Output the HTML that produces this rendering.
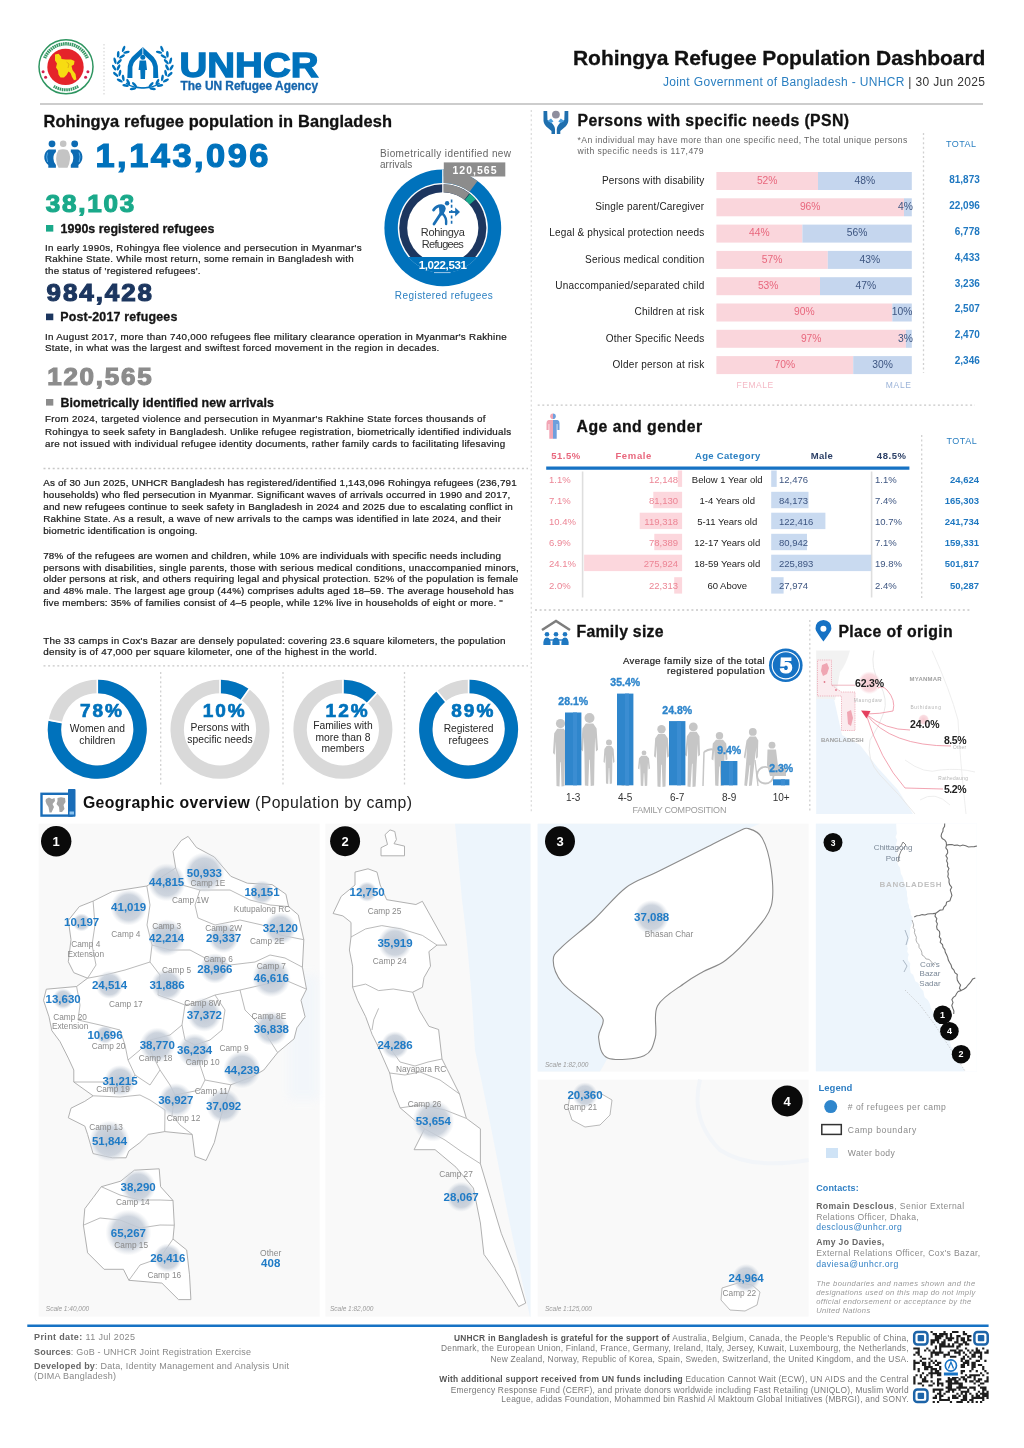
<!DOCTYPE html>
<html lang="en"><head><meta charset="utf-8"><title>Rohingya Refugee Population Dashboard</title>
<style>
html,body{margin:0;padding:0;background:#fff;}
body{width:1024px;height:1448px;overflow:hidden;}
svg{display:block;font-family:'Liberation Sans', Arial, sans-serif;}
</style></head>
<body>
<svg width="1024" height="1448" viewBox="0 0 1024 1448">
<defs>
<radialGradient id="bub" cx="50%" cy="50%" r="50%">
<stop offset="0" stop-color="#b9c3d1" stop-opacity="0.95"/>
<stop offset="0.7" stop-color="#c5cdd8" stop-opacity="0.85"/>
<stop offset="1" stop-color="#d5dbe3" stop-opacity="0"/>
</radialGradient>
<radialGradient id="pinkbub" cx="50%" cy="50%" r="50%">
<stop offset="0" stop-color="#f5c3cb" stop-opacity="0.9"/>
<stop offset="0.75" stop-color="#f7cdd4" stop-opacity="0.7"/>
<stop offset="1" stop-color="#fadde2" stop-opacity="0"/>
</radialGradient>
<filter id="soft" x="-20%" y="-20%" width="140%" height="140%"><feGaussianBlur stdDeviation="4"/></filter>
<clipPath id="donutclip"><circle cx="442.8" cy="227.9" r="45.2"/></clipPath>
</defs>
<rect width="1024" height="1448" fill="#ffffff"/>
<circle cx="66.0" cy="66.8" r="27.0" fill="#ffffff" stroke="#2e9560" stroke-width="1.5"/>
<path d="M44.67,58.18 A23.0,23.0 0 0 1 87.33,58.18" fill="none" stroke="#3a9a68" stroke-width="3.4" stroke-dasharray="1.6 0.6"/>
<path d="M78.19,86.31 A23.0,23.0 0 0 1 53.81,86.31" fill="none" stroke="#3a9a68" stroke-width="3.0" stroke-dasharray="1.6 0.6"/>
<circle cx="65.5" cy="66.9" r="18.2" fill="#e5232a" />
<path d="M55.0,54.5 L58.5,53.8 L61.0,56.5 L61.5,59.0 L66.0,59.5 L71.0,59.5 L74.5,61.0 L74.0,64.5 L71.5,66.0 L72.5,70.0 L75.5,74.0 L76.4,79.5 L74.0,80.2 L72.0,77.0 L70.5,73.0 L68.5,71.5 L66.5,75.0 L64.0,77.5 L60.5,77.5 L58.5,74.5 L58.0,70.5 L56.0,67.5 L57.0,63.5 L55.0,60.5 Z" fill="#f7dc12" />
<path d="M66.5,62 L69,64 L68,68" fill="none" stroke="#d9a514" stroke-width="0.8" />
<circle cx="43.1" cy="71.8" r="1.5" fill="#d2204d" />
<circle cx="45.6" cy="77.2" r="1.5" fill="#d2204d" />
<circle cx="87.9" cy="71.8" r="1.5" fill="#d2204d" />
<circle cx="85.6" cy="77.2" r="1.5" fill="#d2204d" />
<line x1="104.0" y1="44.0" x2="104.0" y2="95.0" stroke="#cfcfcf" stroke-width="1" stroke-dasharray="1.5 2"/>
<ellipse cx="126.5" cy="52.2" rx="1.3" ry="3.3" fill="#0072bc" transform="rotate(436 126.5 52.2)"/>
<ellipse cx="123.6" cy="48.9" rx="1.3" ry="3.3" fill="#0072bc" transform="rotate(380 123.6 48.9)"/>
<ellipse cx="122.0" cy="56.5" rx="1.3" ry="3.3" fill="#0072bc" transform="rotate(419 122.0 56.5)"/>
<ellipse cx="118.2" cy="54.2" rx="1.3" ry="3.3" fill="#0072bc" transform="rotate(363 118.2 54.2)"/>
<ellipse cx="119.3" cy="61.7" rx="1.3" ry="3.3" fill="#0072bc" transform="rotate(402 119.3 61.7)"/>
<ellipse cx="115.0" cy="60.7" rx="1.3" ry="3.3" fill="#0072bc" transform="rotate(346 115.0 60.7)"/>
<ellipse cx="118.5" cy="67.4" rx="1.3" ry="3.3" fill="#0072bc" transform="rotate(385 118.5 67.4)"/>
<ellipse cx="114.1" cy="67.6" rx="1.3" ry="3.3" fill="#0072bc" transform="rotate(329 114.1 67.6)"/>
<ellipse cx="119.9" cy="72.9" rx="1.3" ry="3.3" fill="#0072bc" transform="rotate(369 119.9 72.9)"/>
<ellipse cx="115.7" cy="74.4" rx="1.3" ry="3.3" fill="#0072bc" transform="rotate(313 115.7 74.4)"/>
<ellipse cx="123.2" cy="77.9" rx="1.3" ry="3.3" fill="#0072bc" transform="rotate(352 123.2 77.9)"/>
<ellipse cx="119.7" cy="80.5" rx="1.3" ry="3.3" fill="#0072bc" transform="rotate(296 119.7 80.5)"/>
<ellipse cx="128.2" cy="81.9" rx="1.3" ry="3.3" fill="#0072bc" transform="rotate(335 128.2 81.9)"/>
<ellipse cx="125.6" cy="85.5" rx="1.3" ry="3.3" fill="#0072bc" transform="rotate(279 125.6 85.5)"/>
<ellipse cx="134.5" cy="84.6" rx="1.3" ry="3.3" fill="#0072bc" transform="rotate(318 134.5 84.6)"/>
<ellipse cx="133.0" cy="88.8" rx="1.3" ry="3.3" fill="#0072bc" transform="rotate(262 133.0 88.8)"/>
<ellipse cx="159.1" cy="52.2" rx="1.3" ry="3.3" fill="#0072bc" transform="rotate(104 159.1 52.2)"/>
<ellipse cx="162.0" cy="48.9" rx="1.3" ry="3.3" fill="#0072bc" transform="rotate(160 162.0 48.9)"/>
<ellipse cx="163.6" cy="56.5" rx="1.3" ry="3.3" fill="#0072bc" transform="rotate(121 163.6 56.5)"/>
<ellipse cx="167.4" cy="54.2" rx="1.3" ry="3.3" fill="#0072bc" transform="rotate(177 167.4 54.2)"/>
<ellipse cx="166.3" cy="61.7" rx="1.3" ry="3.3" fill="#0072bc" transform="rotate(138 166.3 61.7)"/>
<ellipse cx="170.6" cy="60.7" rx="1.3" ry="3.3" fill="#0072bc" transform="rotate(194 170.6 60.7)"/>
<ellipse cx="167.1" cy="67.4" rx="1.3" ry="3.3" fill="#0072bc" transform="rotate(155 167.1 67.4)"/>
<ellipse cx="171.5" cy="67.6" rx="1.3" ry="3.3" fill="#0072bc" transform="rotate(211 171.5 67.6)"/>
<ellipse cx="165.7" cy="72.9" rx="1.3" ry="3.3" fill="#0072bc" transform="rotate(171 165.7 72.9)"/>
<ellipse cx="169.9" cy="74.4" rx="1.3" ry="3.3" fill="#0072bc" transform="rotate(227 169.9 74.4)"/>
<ellipse cx="162.4" cy="77.9" rx="1.3" ry="3.3" fill="#0072bc" transform="rotate(188 162.4 77.9)"/>
<ellipse cx="165.9" cy="80.5" rx="1.3" ry="3.3" fill="#0072bc" transform="rotate(244 165.9 80.5)"/>
<ellipse cx="157.4" cy="81.9" rx="1.3" ry="3.3" fill="#0072bc" transform="rotate(205 157.4 81.9)"/>
<ellipse cx="160.0" cy="85.5" rx="1.3" ry="3.3" fill="#0072bc" transform="rotate(261 160.0 85.5)"/>
<ellipse cx="151.1" cy="84.6" rx="1.3" ry="3.3" fill="#0072bc" transform="rotate(222 151.1 84.6)"/>
<ellipse cx="152.6" cy="88.8" rx="1.3" ry="3.3" fill="#0072bc" transform="rotate(278 152.6 88.8)"/>
<path d="M126,83 Q135,90 150,87 M159.6,83 Q150.6,90 135.6,87" fill="none" stroke="#0072bc" stroke-width="1.5" />
<path d="M127.3,78 L127.8,66 Q128.5,61 132,57 L142.3,47.5 L143.3,47.5 L153.6,57 Q157.1,61 157.8,66 L158.3,78 L153.2,78 L153.2,67 Q152.8,63 150,60.5 L142.8,53.8 L135.6,60.5 Q132.8,63 132.4,67 L132.4,78 Z" fill="#0072bc" />
<line x1="142.8" y1="48.0" x2="142.8" y2="54.0" stroke="#ffffff" stroke-width="0.8" />
<circle cx="142.8" cy="57.3" r="2.5" fill="#0072bc" />
<path d="M139.6,60.6 L146,60.6 L147,70 L145.3,70 L145,79 L140.6,79 L140.3,70 L138.6,70 Z" fill="#0072bc" />
<text x="179.5" y="77.4" font-size="34.8" fill="#0072bc" font-weight="bold" textLength="139.0" lengthAdjust="spacingAndGlyphs" stroke="#0072bc" stroke-width="1.3">UNHCR</text>
<text x="180.5" y="90.0" font-size="12" fill="#1565ad" font-weight="bold" textLength="137.5" lengthAdjust="spacingAndGlyphs" stroke="#1565ad" stroke-width="0.3">The UN Refugee Agency</text>
<text x="985.4" y="64.5" font-size="21" fill="#111111" font-weight="bold" text-anchor="end" textLength="412.4" lengthAdjust="spacing" stroke="#111" stroke-width="0.3">Rohingya Refugee Population Dashboard</text>
<text x="985.0" y="85.5" font-size="12" fill="#333" text-anchor="end" textLength="322.0" lengthAdjust="spacing"><tspan fill="#2a7fc1">Joint Government of Bangladesh - UNHCR</tspan><tspan fill="#333"> | </tspan><tspan fill="#333">30 Jun 2025</tspan></text>
<line x1="40.0" y1="104.0" x2="983.0" y2="104.0" stroke="#bdbdbd" stroke-width="1.6" />
<text x="43.5" y="126.5" font-size="16.4" fill="#111" font-weight="bold" textLength="348.5" lengthAdjust="spacing" stroke="#111" stroke-width="0.3">Rohingya refugee population in Bangladesh</text>
<circle cx="63.2" cy="143.8" r="3.3" fill="#c4c4c4" />
<path d="M58.5,150 Q63,148.6 67.5,150 Q70.5,154 70,159 Q69.6,164 67.5,167.7 L58.5,167.7 Q56.3,164 56.1,159 Q55.8,154 58.5,150 Z" fill="#c4c4c4" />
<circle cx="52.0" cy="143.8" r="3.4" fill="#0d6bb3" />
<circle cx="74.7" cy="143.8" r="3.4" fill="#0d6bb3" />
<path d="M48.5,149.5 L55.9,149.5 L55.9,152 Q53.2,154 53.4,158.5 Q53.6,163 55.9,165 L55.9,167.7 L48.3,167.7 L48.3,165 Q44,161.5 44.3,156.5 Q44.7,151.5 48.5,149.5 Z" fill="#0d6bb3" />
<path d="M78.2,149.5 L70.8,149.5 L70.8,152 Q73.5,154 73.3,158.5 Q73.1,163 70.8,165 L70.8,167.7 L78.4,167.7 L78.4,165 Q82.7,161.5 82.4,156.5 Q82,151.5 78.2,149.5 Z" fill="#0d6bb3" />
<path d="M47.6,152.5 Q45.8,156.5 47.6,162" fill="none" stroke="#5fb0ea" stroke-width="0.9" />
<path d="M79.1,152.5 Q80.9,156.5 79.1,162" fill="none" stroke="#5fb0ea" stroke-width="0.9" />
<text x="95.5" y="167.3" font-size="32.5" fill="#0072bc" font-weight="bold" textLength="163.2" lengthAdjust="spacing" stroke="#0072bc" stroke-width="1.2" transform="translate(95.5,0) scale(1.06,1) translate(-95.5,0)">1,143,096</text>
<text x="45.8" y="212.3" font-size="23" fill="#1aa98a" font-weight="bold" textLength="78.3" lengthAdjust="spacing" stroke="#1aa98a" stroke-width="1.1" transform="translate(45.8,0) scale(1.13,1) translate(-45.8,0)">38,103</text>
<rect x="46.0" y="225.0" width="7.3" height="6.6" fill="#1aa98a" />
<text x="60.6" y="232.6" font-size="12.4" fill="#151515" font-weight="bold" textLength="153.8" lengthAdjust="spacing" stroke="#111" stroke-width="0.3">1990s registered refugees</text>
<text x="45.0" y="250.6" font-size="9.8" fill="#1a1a1a" textLength="316.6" lengthAdjust="spacing" stroke="#1a1a1a" stroke-width="0.22">In early 1990s, Rohingya flee violence and persecution in Myanmar's</text>
<text x="45.0" y="262.3" font-size="9.8" fill="#1a1a1a" textLength="308.8" lengthAdjust="spacing" stroke="#1a1a1a" stroke-width="0.22">Rakhine State. While most return, some remain in Bangladesh with</text>
<text x="45.0" y="273.5" font-size="9.8" fill="#1a1a1a" textLength="155.5" lengthAdjust="spacing" stroke="#1a1a1a" stroke-width="0.22">the status of 'registered refugees'.</text>
<text x="46.5" y="301.4" font-size="23" fill="#1c365f" font-weight="bold" textLength="93.4" lengthAdjust="spacing" stroke="#1c365f" stroke-width="1.1" transform="translate(46.5,0) scale(1.13,1) translate(-46.5,0)">984,428</text>
<rect x="46.0" y="313.6" width="7.3" height="6.6" fill="#1c365f" />
<text x="60.3" y="321.0" font-size="12.4" fill="#151515" font-weight="bold" textLength="117.0" lengthAdjust="spacing" stroke="#111" stroke-width="0.3">Post-2017 refugees</text>
<text x="45.0" y="339.6" font-size="9.8" fill="#1a1a1a" textLength="461.7" lengthAdjust="spacing" stroke="#1a1a1a" stroke-width="0.22">In August 2017, more than 740,000 refugees flee military clearance operation in Myanmar's Rakhine</text>
<text x="45.0" y="350.6" font-size="9.8" fill="#1a1a1a" textLength="394.3" lengthAdjust="spacing" stroke="#1a1a1a" stroke-width="0.22">State, in what was the largest and swiftest forced movement in the region in decades.</text>
<text x="47.2" y="384.8" font-size="23" fill="#8c8c8c" font-weight="bold" textLength="92.5" lengthAdjust="spacing" stroke="#8c8c8c" stroke-width="1.1" transform="translate(47.2,0) scale(1.13,1) translate(-47.2,0)">120,565</text>
<rect x="46.0" y="399.0" width="7.3" height="6.6" fill="#8c8c8c" />
<text x="60.6" y="406.8" font-size="12.4" fill="#151515" font-weight="bold" textLength="213.2" lengthAdjust="spacing" stroke="#111" stroke-width="0.3">Biometrically identified new arrivals</text>
<text x="45.0" y="422.4" font-size="9.8" fill="#1a1a1a" textLength="440.5" lengthAdjust="spacing" stroke="#1a1a1a" stroke-width="0.22">From 2024, targeted violence and persecution in Myanmar's Rakhine State forces thousands of</text>
<text x="45.0" y="434.6" font-size="9.8" fill="#1a1a1a" textLength="466.1" lengthAdjust="spacing" stroke="#1a1a1a" stroke-width="0.22">Rohingya to seek safety in Bangladesh. Unlike refugee registration, biometrically identified individuals</text>
<text x="45.0" y="446.6" font-size="9.8" fill="#1a1a1a" textLength="460.2" lengthAdjust="spacing" stroke="#1a1a1a" stroke-width="0.22">are not issued with individual refugee identity documents, rather family cards to facilitating lifesaving</text>
<text x="380.0" y="156.6" font-size="10" fill="#666" textLength="131.0" lengthAdjust="spacing">Biometrically identified new</text>
<text x="380.0" y="168.2" font-size="10" fill="#666">arrivals</text>
<circle cx="442.8" cy="227.9" r="58.4" fill="#0072bc" />
<circle cx="442.8" cy="227.9" r="45.0" fill="#ffffff" />
<path d="M443.25,176.20 A51.7,51.7 0 0 1 473.55,186.34" fill="none" stroke="#8c8c8c" stroke-width="13.4" />
<circle cx="442.8" cy="227.9" r="43.6" fill="#1c365f" />
<circle cx="442.8" cy="227.9" r="35.6" fill="#ffffff" />
<path d="M443.15,188.30 A39.6,39.6 0 0 1 466.91,196.48" fill="none" stroke="#8c8c8c" stroke-width="8.0" />
<path d="M467.45,196.91 A39.6,39.6 0 0 1 472.69,201.92" fill="none" stroke="#1aa98a" stroke-width="8.0" />
<line x1="442.8" y1="169.4" x2="442.8" y2="192.9" stroke="#ffffff" stroke-width="1.2" />
<rect x="443.8" y="162.4" width="61.5" height="14.1" fill="#8c8c8c" />
<text x="474.5" y="173.8" font-size="10.5" fill="#ffffff" font-weight="bold" text-anchor="middle" textLength="44.0" lengthAdjust="spacing">120,565</text>
<rect x="396.8" y="257" width="92" height="40" fill="#0072bc" clip-path="url(#donutclip)"/>
<text x="442.8" y="268.5" font-size="11.5" fill="#ffffff" font-weight="bold" text-anchor="middle" textLength="48.0" lengthAdjust="spacing">1,022,531</text>
<line x1="434.0" y1="272.6" x2="450.5" y2="272.6" stroke="#9cc7ea" stroke-width="1" />
<path d="M433.6,210 Q436.5,205.6 441.2,205.6 Q444.8,205.8 444,209.8 L441.6,214" fill="none" stroke="#1a6fb5" stroke-width="2.9" stroke-linecap="round" stroke-linejoin="round"/>
<path d="M441.2,213 L434,224" fill="none" stroke="#1a6fb5" stroke-width="2.8" stroke-linecap="round"/>
<path d="M438.8,205.8 L443.8,205.2 L445.4,208.5 L443.4,214.6 L439.6,214.2 Z" fill="#1a6fb5" />
<path d="M442.6,213.6 Q446.8,217.5 446.1,224" fill="none" stroke="#1a6fb5" stroke-width="2.4" stroke-linecap="round"/>
<circle cx="447.1" cy="203.2" r="2.2" fill="#1a6fb5" />
<line x1="451.6" y1="199.5" x2="451.6" y2="225.0" stroke="#1a6fb5" stroke-width="1.6" stroke-dasharray="3 2.3"/>
<line x1="449.0" y1="212.0" x2="457.5" y2="212.0" stroke="#1a6fb5" stroke-width="1.9" />
<path d="M455.2,207.6 L460,212 L455.2,216.4 Z" fill="#1a6fb5" />
<text x="442.8" y="235.5" font-size="11" fill="#333" text-anchor="middle" textLength="44.0" lengthAdjust="spacing">Rohingya</text>
<text x="442.8" y="247.6" font-size="11" fill="#333" text-anchor="middle" textLength="42.0" lengthAdjust="spacing">Refugees</text>
<text x="443.8" y="298.5" font-size="10" fill="#2a7fc1" text-anchor="middle" textLength="97.9" lengthAdjust="spacing">Registered refugees</text>
<line x1="43.5" y1="468.5" x2="528.0" y2="468.5" stroke="#c8c8c8" stroke-width="1.3" stroke-dasharray="2 2.6"/>
<text x="43.2" y="486.4" font-size="9.9" fill="#1a1a1a" textLength="473.5" lengthAdjust="spacing" stroke="#1a1a1a" stroke-width="0.22">As of 30 Jun 2025, UNHCR Bangladesh has registered/identified 1,143,096 Rohingya refugees (236,791</text>
<text x="43.2" y="498.4" font-size="9.9" fill="#1a1a1a" textLength="467.1" lengthAdjust="spacing" stroke="#1a1a1a" stroke-width="0.22">households) who fled persecution in Myanmar. Significant waves of arrivals occurred in 1990 and 2017,</text>
<text x="43.2" y="510.3" font-size="9.9" fill="#1a1a1a" textLength="469.6" lengthAdjust="spacing" stroke="#1a1a1a" stroke-width="0.22">and new refugees continue to seek safety in Bangladesh in 2024 and 2025 due to escalating conflict in</text>
<text x="43.2" y="522.2" font-size="9.9" fill="#1a1a1a" textLength="457.8" lengthAdjust="spacing" stroke="#1a1a1a" stroke-width="0.22">Rakhine State. As a result, a wave of new arrivals to the camps was identified in late 2024, and their</text>
<text x="43.2" y="534.0" font-size="9.9" fill="#1a1a1a" textLength="154.4" lengthAdjust="spacing" stroke="#1a1a1a" stroke-width="0.22">biometric identification is ongoing.</text>
<text x="43.2" y="558.9" font-size="9.9" fill="#1a1a1a" textLength="457.7" lengthAdjust="spacing" stroke="#1a1a1a" stroke-width="0.22">78% of the refugees are women and children, while 10% are individuals with specific needs including</text>
<text x="43.2" y="570.6" font-size="9.9" fill="#1a1a1a" textLength="475.5" lengthAdjust="spacing" stroke="#1a1a1a" stroke-width="0.22">persons with disabilities, single parents, those with serious medical conditions, unaccompanied minors,</text>
<text x="43.2" y="582.2" font-size="9.9" fill="#1a1a1a" textLength="474.9" lengthAdjust="spacing" stroke="#1a1a1a" stroke-width="0.22">older persons at risk, and others requiring legal and physical protection. 52% of the population is female</text>
<text x="43.2" y="594.0" font-size="9.9" fill="#1a1a1a" textLength="470.4" lengthAdjust="spacing" stroke="#1a1a1a" stroke-width="0.22">and 48% male. The largest age group (44%) comprises adults aged 18–59. The average household has</text>
<text x="43.2" y="605.8" font-size="9.9" fill="#1a1a1a" textLength="459.6" lengthAdjust="spacing" stroke="#1a1a1a" stroke-width="0.22">five members: 35% of families consist of 4–5 people, while 12% live in households of eight or more. "</text>
<text x="43.2" y="643.9" font-size="9.9" fill="#1a1a1a" textLength="462.2" lengthAdjust="spacing" stroke="#1a1a1a" stroke-width="0.22">The 33 camps in Cox's Bazar are densely populated: covering 23.6 square kilometers, the population</text>
<text x="43.2" y="655.4" font-size="9.9" fill="#1a1a1a" textLength="333.8" lengthAdjust="spacing" stroke="#1a1a1a" stroke-width="0.22">density is of 47,000 per square kilometer, one of the highest in the world.</text>
<line x1="43.5" y1="665.8" x2="528.0" y2="665.8" stroke="#c8c8c8" stroke-width="1.3" stroke-dasharray="2 2.6"/>
<path d="M97.30,686.50 A42.8,42.8 0 1 1 97.29,686.50" fill="none" stroke="#d9d9d9" stroke-width="13.4" />
<path d="M97.90,686.50 A42.8,42.8 0 1 1 55.15,721.87" fill="none" stroke="#0072bc" stroke-width="13.4" />
<line x1="97.3" y1="679.3" x2="97.3" y2="693.8" stroke="#ffffff" stroke-width="1.6" />
<line x1="62.4" y1="722.6" x2="48.2" y2="719.9" stroke="#ffffff" stroke-width="1.6" />
<text x="101.0" y="716.8" font-size="19" fill="#0072bc" font-weight="bold" text-anchor="middle" textLength="42.0" lengthAdjust="spacing" stroke="#0072bc" stroke-width="0.7">78%</text>
<text x="97.3" y="732.1" font-size="10.3" fill="#262626" text-anchor="middle">Women and</text>
<text x="97.3" y="743.6" font-size="10.3" fill="#262626" text-anchor="middle">children</text>
<path d="M220.00,686.50 A42.8,42.8 0 1 1 219.99,686.50" fill="none" stroke="#d9d9d9" stroke-width="13.4" />
<path d="M220.60,686.50 A42.8,42.8 0 0 1 244.67,694.33" fill="none" stroke="#0072bc" stroke-width="13.4" />
<line x1="220.0" y1="679.3" x2="220.0" y2="693.8" stroke="#ffffff" stroke-width="1.6" />
<line x1="240.9" y1="700.6" x2="249.4" y2="688.8" stroke="#ffffff" stroke-width="1.6" />
<text x="223.7" y="716.8" font-size="19" fill="#0072bc" font-weight="bold" text-anchor="middle" textLength="42.0" lengthAdjust="spacing" stroke="#0072bc" stroke-width="0.7">10%</text>
<text x="220.0" y="731.4" font-size="10.3" fill="#262626" text-anchor="middle">Persons with</text>
<text x="220.0" y="742.6" font-size="10.3" fill="#262626" text-anchor="middle">specific needs</text>
<path d="M342.90,686.50 A42.8,42.8 0 1 1 342.89,686.50" fill="none" stroke="#d9d9d9" stroke-width="13.4" />
<path d="M343.50,686.50 A42.8,42.8 0 0 1 371.76,697.69" fill="none" stroke="#0072bc" stroke-width="13.4" />
<line x1="342.9" y1="679.3" x2="342.9" y2="693.8" stroke="#ffffff" stroke-width="1.6" />
<line x1="367.2" y1="703.4" x2="377.1" y2="692.9" stroke="#ffffff" stroke-width="1.6" />
<text x="346.6" y="716.8" font-size="19" fill="#0072bc" font-weight="bold" text-anchor="middle" textLength="42.0" lengthAdjust="spacing" stroke="#0072bc" stroke-width="0.7">12%</text>
<text x="342.9" y="729.0" font-size="10.3" fill="#262626" text-anchor="middle">Families with</text>
<text x="342.9" y="740.7" font-size="10.3" fill="#262626" text-anchor="middle">more than 8</text>
<text x="342.9" y="752.4" font-size="10.3" fill="#262626" text-anchor="middle">members</text>
<path d="M468.60,686.50 A42.8,42.8 0 1 1 468.59,686.50" fill="none" stroke="#d9d9d9" stroke-width="13.4" />
<path d="M469.20,686.50 A42.8,42.8 0 1 1 440.86,696.71" fill="none" stroke="#0072bc" stroke-width="13.4" />
<line x1="468.6" y1="679.3" x2="468.6" y2="693.8" stroke="#ffffff" stroke-width="1.6" />
<line x1="446.0" y1="701.9" x2="436.7" y2="690.8" stroke="#ffffff" stroke-width="1.6" />
<text x="472.3" y="716.8" font-size="19" fill="#0072bc" font-weight="bold" text-anchor="middle" textLength="42.0" lengthAdjust="spacing" stroke="#0072bc" stroke-width="0.7">89%</text>
<text x="468.6" y="732.0" font-size="10.3" fill="#262626" text-anchor="middle">Registered</text>
<text x="468.6" y="743.6" font-size="10.3" fill="#262626" text-anchor="middle">refugees</text>
<line x1="160.7" y1="672.0" x2="160.7" y2="787.0" stroke="#d0d0d0" stroke-width="1.3" stroke-dasharray="2 2.6"/>
<line x1="283.0" y1="672.0" x2="283.0" y2="787.0" stroke="#d0d0d0" stroke-width="1.3" stroke-dasharray="2 2.6"/>
<line x1="404.5" y1="672.0" x2="404.5" y2="787.0" stroke="#d0d0d0" stroke-width="1.3" stroke-dasharray="2 2.6"/>
<rect x="41.5" y="793.8" width="30.0" height="21.8" fill="#ffffff" stroke="#1a6db8" stroke-width="2.4"/>
<rect x="68.0" y="789.1" width="7.5" height="27.7" fill="#1a6db8" rx="0.8"/>
<rect x="69.5" y="811.5" width="4.5" height="3.0" fill="#8cc4f0" />
<path d="M46,799 L49,797.5 L52,799 L54.5,798 L55,801 L52.5,804 L54,807 L51.5,812.5 L49.5,812.5 L48.5,807 L46.5,804 L45.5,801 Z" fill="#a5a5a5" />
<path d="M57.5,798 L61,797.3 L65,798 L65.5,802 L63.5,805 L64.5,809 L62,812 L59.5,812 L59,807 L56.5,804 L57.5,801 Z" fill="#a5a5a5" />
<text x="82.9" y="808.0" font-size="15.8" fill="#111" textLength="329.0" lengthAdjust="spacing"><tspan font-weight="bold" fill="#111">Geographic overview</tspan><tspan fill="#222"> (Population by camp)</tspan></text>
<line x1="531.3" y1="110.0" x2="531.3" y2="812.0" stroke="#dcdcdc" stroke-width="1.3" stroke-dasharray="2 2.6"/>
<circle cx="555.9" cy="114.6" r="3.9" fill="#8e8e9e" />
<path d="M543.5,111 L543.5,121 Q544,125 548,128 L551.5,131 L551.5,134 L555,134 L555,129 Q554.5,125 551,122.5 L547.5,120 L547.2,111 Z" fill="#1f6fae" />
<path d="M568.3,111 L568.3,121 Q567.8,125 563.8,128 L560.3,131 L560.3,134 L556.8,134 L556.8,129 Q557.3,125 560.8,122.5 L564.3,120 L564.6,111 Z" fill="#1f6fae" />
<path d="M547.5,121 L551,118.5 L553.5,121.5 L551,123 Z M564.3,121 L560.8,118.5 L558.3,121.5 L560.8,123 Z" fill="#4aa0e0" />
<text x="577.6" y="126.1" font-size="15.8" fill="#111" font-weight="bold" textLength="271.4" lengthAdjust="spacing" stroke="#111" stroke-width="0.3">Persons with specific needs (PSN)</text>
<text x="577.6" y="143.0" font-size="8.6" fill="#666" textLength="329.6" lengthAdjust="spacing">*An individual may have more than one specific need, The total unique persons</text>
<text x="577.6" y="153.8" font-size="8.6" fill="#666" textLength="126.0" lengthAdjust="spacing">with specific needs is 117,479</text>
<text x="961.0" y="147.0" font-size="9" fill="#2a7fc1" text-anchor="middle" textLength="30.0" lengthAdjust="spacing">TOTAL</text>
<line x1="923.5" y1="133.0" x2="923.5" y2="373.0" stroke="#d0d0d0" stroke-width="1.3" stroke-dasharray="2 2.6"/>
<rect x="716.4" y="172.0" width="101.6" height="18.0" fill="#fad6dc" />
<rect x="818.0" y="172.0" width="93.8" height="18.0" fill="#c5d6ee" />
<text x="704.2" y="183.8" font-size="10" fill="#222" text-anchor="end" textLength="102.2" lengthAdjust="spacing">Persons with disability</text>
<text x="767.2" y="183.8" font-size="10.3" fill="#e8677d" text-anchor="middle">52%</text>
<text x="864.9" y="183.8" font-size="10.3" fill="#3d5580" text-anchor="middle">48%</text>
<text x="979.8" y="183.4" font-size="10" fill="#1f78c1" font-weight="bold" text-anchor="end">81,873</text>
<rect x="716.4" y="198.3" width="187.6" height="18.0" fill="#fad6dc" />
<rect x="904.0" y="198.3" width="7.8" height="18.0" fill="#c5d6ee" />
<text x="704.2" y="210.1" font-size="10" fill="#222" text-anchor="end" textLength="109.0" lengthAdjust="spacing">Single parent/Caregiver</text>
<text x="810.2" y="210.1" font-size="10.3" fill="#e8677d" text-anchor="middle">96%</text>
<text x="912.8" y="210.1" font-size="10.3" fill="#3d5580" text-anchor="end">4%</text>
<text x="979.8" y="209.2" font-size="10" fill="#1f78c1" font-weight="bold" text-anchor="end">22,096</text>
<rect x="716.4" y="224.6" width="86.0" height="18.0" fill="#fad6dc" />
<rect x="802.4" y="224.6" width="109.4" height="18.0" fill="#c5d6ee" />
<text x="704.2" y="236.4" font-size="10" fill="#222" text-anchor="end" textLength="154.9" lengthAdjust="spacing">Legal &amp; physical protection needs</text>
<text x="759.4" y="236.4" font-size="10.3" fill="#e8677d" text-anchor="middle">44%</text>
<text x="857.1" y="236.4" font-size="10.3" fill="#3d5580" text-anchor="middle">56%</text>
<text x="979.8" y="235.0" font-size="10" fill="#1f78c1" font-weight="bold" text-anchor="end">6,778</text>
<rect x="716.4" y="250.9" width="111.4" height="18.0" fill="#fad6dc" />
<rect x="827.8" y="250.9" width="84.0" height="18.0" fill="#c5d6ee" />
<text x="704.2" y="262.7" font-size="10" fill="#222" text-anchor="end" textLength="119.2" lengthAdjust="spacing">Serious medical condition</text>
<text x="772.1" y="262.7" font-size="10.3" fill="#e8677d" text-anchor="middle">57%</text>
<text x="869.8" y="262.7" font-size="10.3" fill="#3d5580" text-anchor="middle">43%</text>
<text x="979.8" y="260.8" font-size="10" fill="#1f78c1" font-weight="bold" text-anchor="end">4,433</text>
<rect x="716.4" y="277.2" width="103.6" height="18.0" fill="#fad6dc" />
<rect x="820.0" y="277.2" width="91.8" height="18.0" fill="#c5d6ee" />
<text x="704.2" y="289.0" font-size="10" fill="#222" text-anchor="end" textLength="149.0" lengthAdjust="spacing">Unaccompanied/separated child</text>
<text x="768.2" y="289.0" font-size="10.3" fill="#e8677d" text-anchor="middle">53%</text>
<text x="865.9" y="289.0" font-size="10.3" fill="#3d5580" text-anchor="middle">47%</text>
<text x="979.8" y="286.6" font-size="10" fill="#1f78c1" font-weight="bold" text-anchor="end">3,236</text>
<rect x="716.4" y="303.5" width="175.9" height="18.0" fill="#fad6dc" />
<rect x="892.3" y="303.5" width="19.5" height="18.0" fill="#c5d6ee" />
<text x="704.2" y="315.3" font-size="10" fill="#222" text-anchor="end" textLength="69.6" lengthAdjust="spacing">Children at risk</text>
<text x="804.3" y="315.3" font-size="10.3" fill="#e8677d" text-anchor="middle">90%</text>
<text x="902.0" y="315.3" font-size="10.3" fill="#3d5580" text-anchor="middle">10%</text>
<text x="979.8" y="312.4" font-size="10" fill="#1f78c1" font-weight="bold" text-anchor="end">2,507</text>
<rect x="716.4" y="329.8" width="189.5" height="18.0" fill="#fad6dc" />
<rect x="905.9" y="329.8" width="5.9" height="18.0" fill="#c5d6ee" />
<text x="704.2" y="341.6" font-size="10" fill="#222" text-anchor="end" textLength="98.5" lengthAdjust="spacing">Other Specific Needs</text>
<text x="811.2" y="341.6" font-size="10.3" fill="#e8677d" text-anchor="middle">97%</text>
<text x="912.8" y="341.6" font-size="10.3" fill="#3d5580" text-anchor="end">3%</text>
<text x="979.8" y="338.2" font-size="10" fill="#1f78c1" font-weight="bold" text-anchor="end">2,470</text>
<rect x="716.4" y="356.1" width="136.8" height="18.0" fill="#fad6dc" />
<rect x="853.2" y="356.1" width="58.6" height="18.0" fill="#c5d6ee" />
<text x="704.2" y="367.9" font-size="10" fill="#222" text-anchor="end" textLength="91.6" lengthAdjust="spacing">Older person at risk</text>
<text x="784.8" y="367.9" font-size="10.3" fill="#e8677d" text-anchor="middle">70%</text>
<text x="882.5" y="367.9" font-size="10.3" fill="#3d5580" text-anchor="middle">30%</text>
<text x="979.8" y="364.0" font-size="10" fill="#1f78c1" font-weight="bold" text-anchor="end">2,346</text>
<text x="754.8" y="388.0" font-size="8.5" fill="#f4b8c4" text-anchor="middle" textLength="36.5" lengthAdjust="spacing">FEMALE</text>
<text x="911.0" y="388.0" font-size="8.5" fill="#9bb3d8" text-anchor="end" textLength="25.3" lengthAdjust="spacing">MALE</text>
<line x1="537.7" y1="405.1" x2="975.0" y2="405.1" stroke="#c8c8c8" stroke-width="1.3" stroke-dasharray="2 2.6"/>
<path d="M553,413.5 A2.8,2.8 0 0 0 553,419.1 Z" fill="#f2a5b4" />
<path d="M553,413.5 A2.8,2.8 0 0 1 553,419.1 Z" fill="#6f9fdc" />
<path d="M553,420 L548.5,420 Q546.5,420.5 546.5,423 L546.5,430 L548.6,430 L548.6,424 L549.3,424 L549.3,438.8 L553,438.8 Z" fill="#f2a5b4" />
<path d="M553,420 L557.5,420 Q559.5,420.5 559.5,423 L559.5,430 L557.4,430 L557.4,424 L556.7,424 L556.7,438.8 L553,438.8 Z" fill="#6f9fdc" />
<text x="576.6" y="432.0" font-size="15.8" fill="#111" font-weight="bold" textLength="125.5" lengthAdjust="spacing" stroke="#111" stroke-width="0.3">Age and gender</text>
<text x="961.6" y="443.7" font-size="9" fill="#2a7fc1" text-anchor="middle" textLength="30.4" lengthAdjust="spacing">TOTAL</text>
<text x="551.2" y="459.0" font-size="9.5" fill="#e8677d" font-weight="bold" textLength="29.0" lengthAdjust="spacing">51.5%</text>
<text x="633.4" y="459.0" font-size="9.5" fill="#e8677d" font-weight="bold" text-anchor="middle" textLength="36.0" lengthAdjust="spacing">Female</text>
<text x="727.6" y="459.0" font-size="9.5" fill="#2a7fc1" font-weight="bold" text-anchor="middle" textLength="65.3" lengthAdjust="spacing">Age Category</text>
<text x="821.8" y="459.4" font-size="9.5" fill="#2b3f66" font-weight="bold" text-anchor="middle" textLength="22.0" lengthAdjust="spacing">Male</text>
<text x="876.8" y="459.4" font-size="9.5" fill="#2b3f66" font-weight="bold" textLength="29.2" lengthAdjust="spacing">48.5%</text>
<line x1="546.2" y1="468.1" x2="909.4" y2="468.1" stroke="#1672c4" stroke-width="3.1" />
<line x1="582.6" y1="471.5" x2="582.6" y2="597.5" stroke="#dedede" stroke-width="1.6" />
<line x1="871.6" y1="471.5" x2="871.6" y2="597.5" stroke="#dedede" stroke-width="1.6" />
<line x1="921.7" y1="435.0" x2="921.7" y2="600.0" stroke="#d0d0d0" stroke-width="1.3" stroke-dasharray="2 2.6"/>
<rect x="677.8" y="470.5" width="4.3" height="16.4" fill="#fcd7dd" />
<rect x="771.2" y="470.5" width="5.5" height="16.4" fill="#c9daf0" />
<text x="549.0" y="482.7" font-size="9.5" fill="#ec8595">1.1%</text>
<text x="678.0" y="482.7" font-size="9.5" fill="#ec8595" text-anchor="end">12,148</text>
<text x="727.2" y="482.7" font-size="9.5" fill="#222" text-anchor="middle">Below 1 Year old</text>
<text x="779.0" y="482.7" font-size="9.5" fill="#3d5580">12,476</text>
<text x="875.0" y="482.7" font-size="9.5" fill="#3d5580">1.1%</text>
<text x="979.0" y="482.7" font-size="9.5" fill="#1f78c1" font-weight="bold" text-anchor="end">24,624</text>
<rect x="653.3" y="491.8" width="28.8" height="16.4" fill="#fcd7dd" />
<rect x="771.2" y="491.8" width="37.3" height="16.4" fill="#c9daf0" />
<text x="549.0" y="504.0" font-size="9.5" fill="#ec8595">7.1%</text>
<text x="678.0" y="504.0" font-size="9.5" fill="#ec8595" text-anchor="end">81,130</text>
<text x="727.2" y="504.0" font-size="9.5" fill="#222" text-anchor="middle">1-4 Years old</text>
<text x="779.0" y="504.0" font-size="9.5" fill="#3d5580">84,173</text>
<text x="875.0" y="504.0" font-size="9.5" fill="#3d5580">7.4%</text>
<text x="979.0" y="504.0" font-size="9.5" fill="#1f78c1" font-weight="bold" text-anchor="end">165,303</text>
<rect x="639.7" y="512.7" width="42.4" height="16.4" fill="#fcd7dd" />
<rect x="771.2" y="512.7" width="54.2" height="16.4" fill="#c9daf0" />
<text x="549.0" y="524.9" font-size="9.5" fill="#ec8595">10.4%</text>
<text x="678.0" y="524.9" font-size="9.5" fill="#ec8595" text-anchor="end">119,318</text>
<text x="727.2" y="524.9" font-size="9.5" fill="#222" text-anchor="middle">5-11 Years old</text>
<text x="779.0" y="524.9" font-size="9.5" fill="#3d5580">122,416</text>
<text x="875.0" y="524.9" font-size="9.5" fill="#3d5580">10.7%</text>
<text x="979.0" y="524.9" font-size="9.5" fill="#1f78c1" font-weight="bold" text-anchor="end">241,734</text>
<rect x="654.3" y="533.8" width="27.8" height="16.4" fill="#fcd7dd" />
<rect x="771.2" y="533.8" width="35.8" height="16.4" fill="#c9daf0" />
<text x="549.0" y="546.0" font-size="9.5" fill="#ec8595">6.9%</text>
<text x="678.0" y="546.0" font-size="9.5" fill="#ec8595" text-anchor="end">78,389</text>
<text x="727.2" y="546.0" font-size="9.5" fill="#222" text-anchor="middle">12-17 Years old</text>
<text x="779.0" y="546.0" font-size="9.5" fill="#3d5580">80,942</text>
<text x="875.0" y="546.0" font-size="9.5" fill="#3d5580">7.1%</text>
<text x="979.0" y="546.0" font-size="9.5" fill="#1f78c1" font-weight="bold" text-anchor="end">159,331</text>
<rect x="584.1" y="554.7" width="98.0" height="16.4" fill="#fcd7dd" />
<rect x="771.2" y="554.7" width="100.0" height="16.4" fill="#c9daf0" />
<text x="549.0" y="566.9" font-size="9.5" fill="#ec8595">24.1%</text>
<text x="678.0" y="566.9" font-size="9.5" fill="#ec8595" text-anchor="end">275,924</text>
<text x="727.2" y="566.9" font-size="9.5" fill="#222" text-anchor="middle">18-59 Years old</text>
<text x="779.0" y="566.9" font-size="9.5" fill="#3d5580">225,893</text>
<text x="875.0" y="566.9" font-size="9.5" fill="#3d5580">19.8%</text>
<text x="979.0" y="566.9" font-size="9.5" fill="#1f78c1" font-weight="bold" text-anchor="end">501,817</text>
<rect x="674.2" y="577.2" width="7.9" height="16.4" fill="#fcd7dd" />
<rect x="771.2" y="577.2" width="12.4" height="16.4" fill="#c9daf0" />
<text x="549.0" y="589.4" font-size="9.5" fill="#ec8595">2.0%</text>
<text x="678.0" y="589.4" font-size="9.5" fill="#ec8595" text-anchor="end">22,313</text>
<text x="727.2" y="589.4" font-size="9.5" fill="#222" text-anchor="middle">60 Above</text>
<text x="779.0" y="589.4" font-size="9.5" fill="#3d5580">27,974</text>
<text x="875.0" y="589.4" font-size="9.5" fill="#3d5580">2.4%</text>
<text x="979.0" y="589.4" font-size="9.5" fill="#1f78c1" font-weight="bold" text-anchor="end">50,287</text>
<line x1="535.0" y1="610.0" x2="972.0" y2="610.0" stroke="#c8c8c8" stroke-width="1.3" stroke-dasharray="2 2.6"/>
<line x1="809.8" y1="620.0" x2="809.8" y2="812.0" stroke="#d0d0d0" stroke-width="1.3" stroke-dasharray="2 2.6"/>
<path d="M542,630 L556,621 L570,630" fill="none" stroke="#7d7d7d" stroke-width="2.6" />
<circle cx="547.0" cy="634.3" r="2.3" fill="#1f78c1" />
<path d="M543.4,645 Q543,637.5 547,637.5 Q551,637.5 550.6,645 Z" fill="#1f78c1" />
<circle cx="556.0" cy="634.3" r="2.3" fill="#1f78c1" />
<path d="M552.4,645 Q552,637.5 556,637.5 Q560,637.5 559.6,645 Z" fill="#1f78c1" />
<circle cx="565.0" cy="634.3" r="2.3" fill="#1f78c1" />
<path d="M561.4,645 Q561,637.5 565,637.5 Q569,637.5 568.6,645 Z" fill="#1f78c1" />
<line x1="546.0" y1="640.0" x2="566.0" y2="640.0" stroke="#1f78c1" stroke-width="1.4" />
<text x="576.6" y="637.3" font-size="15.8" fill="#111" font-weight="bold" textLength="86.9" lengthAdjust="spacing" stroke="#111" stroke-width="0.3">Family size</text>
<text x="764.7" y="663.8" font-size="9.5" fill="#222" text-anchor="end" textLength="141.7" lengthAdjust="spacing" stroke="#1a1a1a" stroke-width="0.22">Average family size of the total</text>
<text x="764.7" y="673.9" font-size="9.5" fill="#222" text-anchor="end" textLength="97.7" lengthAdjust="spacing" stroke="#1a1a1a" stroke-width="0.22">registered population</text>
<circle cx="785.8" cy="665.3" r="16.8" fill="#1672c4" />
<circle cx="785.8" cy="665.3" r="13.6" fill="none" stroke="#ffffff" stroke-width="1.1"/>
<text x="786.0" y="673.4" font-size="22.5" fill="#ffffff" font-weight="bold" text-anchor="middle" stroke="#fff" stroke-width="1.2">5</text>
<circle cx="560.5" cy="723.6" r="4.6" fill="#c6c6c6" />
<path d="M557.2,728.7 L563.8,728.7 L566.8,733.3 L568.0,753.0 L566.2,754.8 L565.5,741.4 L565.0,757.6 L564.5,786.0 L561.5,786.6 L560.8,762.3 L560.2,762.3 L559.5,786.6 L556.5,786.0 L556.0,757.6 L555.5,741.4 L554.8,754.8 L553.0,753.0 L554.2,733.3 Z" fill="#c6c6c6" />
<circle cx="589.5" cy="718.0" r="5.0" fill="#c6c6c6" />
<path d="M585.8,723.4 L593.2,723.4 L596.6,728.4 L598.0,749.7 L596.0,751.6 L595.1,737.2 L594.6,754.7 L594.1,785.4 L590.7,786.0 L589.8,759.7 L589.2,759.7 L588.3,786.0 L584.9,785.4 L584.4,754.7 L583.9,737.2 L583.0,751.6 L581.0,749.7 L582.4,728.4 Z" fill="#c6c6c6" />
<circle cx="609.0" cy="742.5" r="3.0" fill="#c6c6c6" />
<path d="M606.6,746.1 L611.4,746.1 L613.6,749.1 L614.5,762.0 L613.2,763.1 L612.6,754.4 L612.3,765.0 L612.0,783.6 L609.8,784.0 L609.2,768.1 L608.8,768.1 L608.2,784.0 L606.0,783.6 L605.7,765.0 L605.4,754.4 L604.8,763.1 L603.5,762.0 L604.4,749.1 Z" fill="#c6c6c6" />
<circle cx="625.4" cy="735.2" r="3.7" fill="#c6c6c6" />
<path d="M622.1,739.4 L628.7,739.4 L631.7,743.1 L632.9,759.0 L631.1,760.4 L630.4,749.7 L629.9,762.7 L629.4,785.5 L626.4,786.0 L625.7,766.4 L625.1,766.4 L624.4,786.0 L621.4,785.5 L620.9,762.7 L620.4,749.7 L619.7,760.4 L617.9,759.0 L619.1,743.1 Z" fill="#c6c6c6" />
<circle cx="644.0" cy="752.9" r="2.4" fill="#c6c6c6" />
<path d="M641.4,755.8 L646.6,755.8 L649.0,758.2 L650.0,768.5 L648.6,769.4 L648.0,762.5 L647.6,770.9 L647.2,785.7 L644.8,786.0 L644.2,773.3 L643.8,773.3 L643.2,786.0 L640.8,785.7 L640.4,770.9 L640.0,762.5 L639.4,769.4 L638.0,768.5 L639.0,758.2 Z" fill="#c6c6c6" />
<circle cx="661.5" cy="729.2" r="4.2" fill="#c6c6c6" />
<path d="M658.2,733.9 L664.8,733.9 L667.8,738.2 L669.0,756.2 L667.2,757.8 L666.5,745.6 L666.0,760.5 L665.5,786.5 L662.5,787.0 L661.8,764.7 L661.2,764.7 L660.5,787.0 L657.5,786.5 L657.0,760.5 L656.5,745.6 L655.8,757.8 L654.0,756.2 L655.2,738.2 Z" fill="#c6c6c6" />
<circle cx="693.3" cy="726.9" r="4.4" fill="#c6c6c6" />
<path d="M690.0,731.8 L696.6,731.8 L699.5,736.2 L700.0,755.0 L698.2,756.6 L697.9,743.9 L696.9,759.4 L695.6,786.4 L692.5,787.0 L692.6,763.8 L692.0,763.8 L690.5,787.0 L687.5,786.4 L687.9,759.4 L688.0,743.9 L686.8,756.6 L685.0,755.0 L686.9,736.2 Z" fill="#c6c6c6" />
<circle cx="719.5" cy="735.7" r="3.7" fill="#c6c6c6" />
<path d="M716.0,739.8 L723.0,739.8 L726.2,743.5 L727.5,759.2 L725.6,760.6 L724.8,750.0 L724.3,762.9 L723.8,785.5 L720.6,786.0 L719.8,766.6 L719.2,766.6 L718.4,786.0 L715.2,785.5 L714.7,762.9 L714.2,750.0 L713.4,760.6 L711.5,759.2 L712.8,743.5 Z" fill="#c6c6c6" />
<line x1="704.0" y1="752.0" x2="703.0" y2="786.0" stroke="#c6c6c6" stroke-width="1.5" />
<path d="M704,752 Q710,748 714,750" fill="none" stroke="#c6c6c6" stroke-width="2" />
<circle cx="752.8" cy="731.9" r="3.9" fill="#c6c6c6" />
<path d="M749.7,736.4 L755.9,736.4 L758.3,740.4 L757.8,757.2 L756.0,758.7 L756.4,747.3 L754.6,761.2 L751.8,785.5 L749.0,786.0 L750.3,765.2 L749.7,765.2 L747.0,786.0 L744.3,785.5 L746.2,761.2 L747.1,747.3 L745.3,758.7 L743.8,757.2 L746.5,740.4 Z" fill="#c6c6c6" />
<line x1="755.0" y1="760.0" x2="758.0" y2="786.0" stroke="#c6c6c6" stroke-width="1.3" />
<circle cx="772.0" cy="745.2" r="3.4" fill="#c6c6c6" />
<path d="M767.5,749.5 L776,749.5 L778,766 L786,768 L786,776 L770,776 L767,765 Z" fill="#c6c6c6" />
<circle cx="765.3" cy="775.2" r="8.3" fill="none" stroke="#c6c6c6" stroke-width="1.8"/>
<rect x="565.0" y="712.5" width="16.4" height="72.8" fill="#2f86cc" />
<rect x="573.0" y="712.5" width="4.0" height="72.8" fill="#3b8dd2" />
<text x="573.2" y="705.3" font-size="10.5" fill="#2f86cc" font-weight="bold" text-anchor="middle" stroke="#2f86cc" stroke-width="0.35">28.1%</text>
<text x="573.2" y="800.6" font-size="10" fill="#333" text-anchor="middle">1-3</text>
<rect x="617.0" y="693.6" width="16.4" height="91.7" fill="#2f86cc" />
<rect x="625.0" y="693.6" width="4.0" height="91.7" fill="#3b8dd2" />
<text x="625.2" y="686.4" font-size="10.5" fill="#2f86cc" font-weight="bold" text-anchor="middle" stroke="#2f86cc" stroke-width="0.35">35.4%</text>
<text x="625.2" y="800.6" font-size="10" fill="#333" text-anchor="middle">4-5</text>
<rect x="669.0" y="721.1" width="16.4" height="64.2" fill="#2f86cc" />
<rect x="677.0" y="721.1" width="4.0" height="64.2" fill="#3b8dd2" />
<text x="677.2" y="713.9" font-size="10.5" fill="#2f86cc" font-weight="bold" text-anchor="middle" stroke="#2f86cc" stroke-width="0.35">24.8%</text>
<text x="677.2" y="800.6" font-size="10" fill="#333" text-anchor="middle">6-7</text>
<rect x="721.0" y="761.0" width="16.4" height="24.3" fill="#2f86cc" />
<rect x="729.0" y="761.0" width="4.0" height="24.3" fill="#3b8dd2" />
<text x="729.2" y="753.8" font-size="10.5" fill="#2f86cc" font-weight="bold" text-anchor="middle" stroke="#2f86cc" stroke-width="0.35">9.4%</text>
<text x="729.2" y="800.6" font-size="10" fill="#333" text-anchor="middle">8-9</text>
<rect x="773.0" y="779.3" width="16.4" height="6.0" fill="#2f86cc" />
<rect x="781.0" y="779.3" width="4.0" height="6.0" fill="#3b8dd2" />
<text x="781.2" y="772.1" font-size="10.5" fill="#2f86cc" font-weight="bold" text-anchor="middle" stroke="#2f86cc" stroke-width="0.35">2.3%</text>
<text x="781.2" y="800.6" font-size="10" fill="#333" text-anchor="middle">10+</text>
<text x="679.4" y="812.8" font-size="9" fill="#9a9a9a" text-anchor="middle" textLength="94.0" lengthAdjust="spacing">FAMILY COMPOSITION</text>
<path d="M823.4,641.6 Q815.5,631 815.5,628.8 A8,8 0 1 1 831.4,628.8 Q831.4,631 823.4,641.6 Z" fill="#1672c4" />
<circle cx="823.4" cy="628.8" r="3.0" fill="#ffffff" />
<text x="838.4" y="637.2" font-size="15.8" fill="#111" font-weight="bold" textLength="114.3" lengthAdjust="spacing" stroke="#111" stroke-width="0.3">Place of origin</text>
<rect x="816.2" y="650.5" width="159.8" height="163.5" fill="#ffffff" />
<path d="M816.2,650.5 L850,650.5 Q846,665 840,672 L835,700 L816.2,700 Z" fill="#efefef" opacity="0.8"/>
<path d="M816.2,699 L834,699 L842,735 L860,745 L878,768 L898,790 L913,814 L816.2,814 Z" fill="#ecf4fc" />
<path d="M874,650.5 Q870,668 880,684 Q888,700 884,712 Q880,725 870,740 Q866,760 880,775 Q900,795 915,814" fill="none" stroke="#e6e6e6" stroke-width="0.9" />
<path d="M932,650.5 Q950,690 958,720 Q960,760 966,814" fill="none" stroke="#ececec" stroke-width="0.9" />
<path d="M905,760 Q925,775 940,770 Q960,768 975,772" fill="none" stroke="#ececec" stroke-width="0.9" />
<path d="M920,800 Q935,790 950,805" fill="none" stroke="#ececec" stroke-width="0.9" />
<path d="M817.5,660 L831.5,660 L831.5,685 L841.5,692 L855,692 L855,730.5 L841.5,730.5 L841.5,696 L817.5,696 Z" fill="#fbecef" stroke="#e99aa7" stroke-width="0.7" stroke-dasharray="1.2 1"/>
<path d="M822,665 L827,663 L829,668 L827,674 L823,676 L821,671 Z" fill="#f0a6b3" />
<path d="M847,712 L851,710 L853,718 L851,726 L848,724 Z" fill="#f0a6b3" />
<circle cx="824.5" cy="682.0" r="0.9" fill="#e07a8c" />
<circle cx="836.0" cy="690.0" r="0.9" fill="#e07a8c" />
<line x1="831.5" y1="685.2" x2="855.0" y2="685.2" stroke="#e99aa7" stroke-width="0.7" />
<circle cx="869.4" cy="682.7" r="11.5" fill="url(#pinkbub)" />
<circle cx="923.6" cy="719.6" r="5.5" fill="url(#pinkbub)" />
<path d="M866,714 Q880,714 893,711 Q896,700 887,690 Q882,685 878,688" fill="none" stroke="#ef8d9e" stroke-width="0.8" />
<path d="M866,714 Q885,730 910,730" fill="none" stroke="#ef8d9e" stroke-width="0.8" />
<path d="M866,714 Q890,746 951,746" fill="none" stroke="#ef8d9e" stroke-width="0.8" />
<path d="M866,714 Q880,760 905,788 L943,789" fill="none" stroke="#ef8d9e" stroke-width="0.8" />
<path d="M861,710.5 L870.5,711 L866.5,718.5 Z" fill="#e4405e" />
<text x="855.0" y="686.8" font-size="10.5" fill="#222" font-weight="bold" textLength="29.0" lengthAdjust="spacing">62.3%</text>
<text x="910.1" y="727.9" font-size="10.5" fill="#222" font-weight="bold" textLength="29.5" lengthAdjust="spacing">24.0%</text>
<text x="944.0" y="744.3" font-size="10.5" fill="#222" font-weight="bold" textLength="22.5" lengthAdjust="spacing">8.5%</text>
<text x="944.0" y="792.7" font-size="10.5" fill="#222" font-weight="bold" textLength="22.5" lengthAdjust="spacing">5.2%</text>
<text x="909.6" y="681.0" font-size="6" fill="#a0a0a0" font-weight="bold" textLength="32.0" lengthAdjust="spacing">MYANMAR</text>
<text x="821.0" y="741.8" font-size="6" fill="#a0a0a0" font-weight="bold" textLength="42.7" lengthAdjust="spacing">BANGLADESH</text>
<text x="853.8" y="702.4" font-size="4.8" fill="#b5b5b5" textLength="27.9" lengthAdjust="spacing">Maungdaw</text>
<text x="910.4" y="709.0" font-size="4.8" fill="#b5b5b5" textLength="30.4" lengthAdjust="spacing">Buthidaung</text>
<text x="953.0" y="749.2" font-size="4.8" fill="#b5b5b5" textLength="13.0" lengthAdjust="spacing">Other</text>
<text x="938.3" y="780.4" font-size="4.8" fill="#b5b5b5" textLength="29.6" lengthAdjust="spacing">Rathedaung</text>
<rect x="38.7" y="823.7" width="281.0" height="493.0" fill="#f9f9f9" />
<rect x="288.0" y="975.0" width="31.0" height="125.0" fill="#eef4fb" opacity="0.55" filter="url(#soft)"/>
<path d="M181.2,840.5 L188.1,836.4 L196.4,847.4 L214.3,857.0 L230.8,876.3 L247.3,883.2 L272.1,884.6 L285.9,894.2 L288.6,906.6 L298.3,914.9 L303.8,939.7 L302.4,967.2 L306.5,989.2 L301.0,1000.3 L305.1,1016.8 L296.9,1027.8 L294.1,1038.8 L277.6,1052.6 L263.8,1070.0 L252.8,1076.5 L230.8,1084.8 L225.3,1101.3 L219.8,1120.6 L214.3,1142.6 L206.0,1160.5 L195.0,1156.4 L192.2,1134.4 L164.7,1131.6 L148.2,1134.4 L139.9,1142.6 L128.9,1150.9 L126.1,1157.8 L112.4,1157.8 L93.1,1153.6 L87.6,1134.4 L84.8,1126.1 L68.3,1117.8 L71.0,1108.2 L84.8,1101.3 L93.1,1095.8 L73.8,1082.0 L73.8,1070.0 L68.3,1058.1 L60.0,1041.6 L51.8,1030.6 L49.0,1016.8 L43.5,1000.3 L46.3,989.2 L76.6,986.5 L87.6,978.2 L73.8,972.7 L68.3,961.7 L71.0,939.7 L68.3,920.4 L79.3,906.6 L93.1,901.1 L112.4,891.5 L146.8,886.0 L160.0,878.0 L175.7,868.0 L173.0,851.5 Z" fill="#ffffff" stroke="#a8a8a8" stroke-width="0.9" />
<path d="M134.4,1170.2 L159.2,1168.8 L160.6,1186.7 L173.0,1200.5 L174.3,1225.2 L173.0,1239.0 L186.7,1250.0 L189.5,1274.8 L190.9,1299.6 L178.5,1299.6 L161.9,1283.1 L128.9,1280.3 L123.4,1269.3 L104.1,1269.3 L87.6,1252.8 L83.4,1225.2 L84.8,1208.7 L93.1,1197.7 L101.3,1186.7 L120.6,1181.2 Z" fill="#ffffff" stroke="#a8a8a8" stroke-width="0.9" />
<path d="M146.8,886 L150,905 L147,925 L152,945 L150,962 L160,975 L158,995" fill="none" stroke="#a8a8a8" stroke-width="0.8" />
<path d="M175.7,868 L182,885 L200,890 L230,890 L250,900 L270,905 L288.6,906.6" fill="none" stroke="#a8a8a8" stroke-width="0.8" />
<path d="M200,890 L195,905 L198,918 L215,925 L240,920 L262,925 L280,935 L303.8,939.7" fill="none" stroke="#a8a8a8" stroke-width="0.8" />
<path d="M152,945 L170,950 L190,950 L205,958 L230,965 L255,962 L270,955 L285,958 L302.4,967.2" fill="none" stroke="#a8a8a8" stroke-width="0.8" />
<path d="M93.1,901.1 L95,925 L92,945 L96,965 L87.6,978.2" fill="none" stroke="#a8a8a8" stroke-width="0.8" />
<path d="M87.6,978.2 L105,975 L125,970 L150,962" fill="none" stroke="#a8a8a8" stroke-width="0.8" />
<path d="M76.6,986.5 L80,1005 L78,1020 L100,1025 L120,1030 L125,1045 L128,1060" fill="none" stroke="#a8a8a8" stroke-width="0.8" />
<path d="M158,995 L172,1000 L185,1005 L198,1002 L215,995 L240,990 L262,985 L285,980 L306.5,989.2" fill="none" stroke="#a8a8a8" stroke-width="0.8" />
<path d="M128,1060 L135,1075 L130,1082 L73.8,1082" fill="none" stroke="#a8a8a8" stroke-width="0.8" />
<path d="M185,1005 L182,1025 L170,1035 L150,1040 L140,1050 L128,1060" fill="none" stroke="#a8a8a8" stroke-width="0.8" />
<path d="M215,995 L225,1010 L222,1030 L210,1040 L195,1045 L185,1040 L182,1025" fill="none" stroke="#a8a8a8" stroke-width="0.8" />
<path d="M240,990 L245,1010 L260,1025 L277.6,1052.6" fill="none" stroke="#a8a8a8" stroke-width="0.8" />
<path d="M195,1045 L200,1065 L205,1080 L230.8,1084.8" fill="none" stroke="#a8a8a8" stroke-width="0.8" />
<path d="M160,1070 L170,1085 L175,1095 L200,1090 L205,1080" fill="none" stroke="#a8a8a8" stroke-width="0.8" />
<path d="M135,1075 L150,1085 L160,1070 L150,1050" fill="none" stroke="#a8a8a8" stroke-width="0.8" />
<path d="M93.1,1095.8 L120,1097 L140,1095 L150,1100 L165,1110 L164.7,1131.6" fill="none" stroke="#a8a8a8" stroke-width="0.8" />
<path d="M175,1095 L172,1115 L180,1125 L192.2,1134.4" fill="none" stroke="#a8a8a8" stroke-width="0.8" />
<path d="M101.3,1186.7 L120,1195 L140,1200 L160,1200 L173,1200.5" fill="none" stroke="#a8a8a8" stroke-width="0.8" />
<path d="M83.4,1225.2 L100,1218 L120,1220 L140,1228 L160,1225 L174.3,1225.2" fill="none" stroke="#a8a8a8" stroke-width="0.8" />
<path d="M128.9,1280.3 L140,1265 L160,1258 L173,1239" fill="none" stroke="#a8a8a8" stroke-width="0.8" />
<circle cx="56.2" cy="841.2" r="15.2" fill="#0a0a0a" />
<text x="56.2" y="845.9" font-size="13" fill="#ffffff" font-weight="bold" text-anchor="middle">1</text>
<circle cx="204.4" cy="872.5" r="20.3" fill="url(#bub)" />
<circle cx="166.7" cy="882.3" r="19.1" fill="url(#bub)" />
<circle cx="262.0" cy="892.4" r="12.1" fill="url(#bub)" />
<circle cx="128.7" cy="907.4" r="18.2" fill="url(#bub)" />
<circle cx="81.6" cy="922.4" r="9.1" fill="url(#bub)" />
<circle cx="166.7" cy="937.8" r="18.5" fill="url(#bub)" />
<circle cx="223.6" cy="937.8" r="15.4" fill="url(#bub)" />
<circle cx="280.4" cy="928.4" r="16.1" fill="url(#bub)" />
<circle cx="214.9" cy="968.5" r="15.3" fill="url(#bub)" />
<circle cx="167.0" cy="984.9" r="16.1" fill="url(#bub)" />
<circle cx="271.4" cy="977.9" r="19.4" fill="url(#bub)" />
<circle cx="109.5" cy="984.9" r="14.1" fill="url(#bub)" />
<circle cx="63.1" cy="998.8" r="10.5" fill="url(#bub)" />
<circle cx="204.4" cy="1014.5" r="17.4" fill="url(#bub)" />
<circle cx="271.4" cy="1028.5" r="17.3" fill="url(#bub)" />
<circle cx="105.0" cy="1034.7" r="9.3" fill="url(#bub)" />
<circle cx="157.3" cy="1045.2" r="17.7" fill="url(#bub)" />
<circle cx="194.6" cy="1050.4" r="17.1" fill="url(#bub)" />
<circle cx="242.0" cy="1069.6" r="18.9" fill="url(#bub)" />
<circle cx="120.0" cy="1080.8" r="15.9" fill="url(#bub)" />
<circle cx="175.8" cy="1100.3" r="17.3" fill="url(#bub)" />
<circle cx="223.6" cy="1105.9" r="17.3" fill="url(#bub)" />
<circle cx="109.5" cy="1141.1" r="20.5" fill="url(#bub)" />
<circle cx="138.1" cy="1186.5" r="17.6" fill="url(#bub)" />
<circle cx="128.4" cy="1232.5" r="23.0" fill="url(#bub)" />
<circle cx="167.8" cy="1258.0" r="14.6" fill="url(#bub)" />
<text x="207.9" y="886.0" font-size="8.3" fill="#8a8a8a" text-anchor="middle">Camp 1E</text>
<text x="190.4" y="902.8" font-size="8.3" fill="#8a8a8a" text-anchor="middle">Camp 1W</text>
<text x="262.0" y="911.5" font-size="8.3" fill="#8a8a8a" text-anchor="middle">Kutupalong RC</text>
<text x="125.9" y="936.6" font-size="8.3" fill="#8a8a8a" text-anchor="middle">Camp 4</text>
<text x="166.7" y="929.0" font-size="8.3" fill="#8a8a8a" text-anchor="middle">Camp 3</text>
<text x="223.6" y="931.4" font-size="8.3" fill="#8a8a8a" text-anchor="middle">Camp 2W</text>
<text x="267.2" y="944.3" font-size="8.3" fill="#8a8a8a" text-anchor="middle">Camp 2E</text>
<text x="218.3" y="962.4" font-size="8.3" fill="#8a8a8a" text-anchor="middle">Camp 6</text>
<text x="176.5" y="972.9" font-size="8.3" fill="#8a8a8a" text-anchor="middle">Camp 5</text>
<text x="271.4" y="968.7" font-size="8.3" fill="#8a8a8a" text-anchor="middle">Camp 7</text>
<text x="125.9" y="1007.0" font-size="8.3" fill="#8a8a8a" text-anchor="middle">Camp 17</text>
<text x="202.7" y="1006.3" font-size="8.3" fill="#8a8a8a" text-anchor="middle">Camp 8W</text>
<text x="268.9" y="1018.9" font-size="8.3" fill="#8a8a8a" text-anchor="middle">Camp 8E</text>
<text x="108.5" y="1049.3" font-size="8.3" fill="#8a8a8a" text-anchor="middle">Camp 20</text>
<text x="155.6" y="1061.1" font-size="8.3" fill="#8a8a8a" text-anchor="middle">Camp 18</text>
<text x="202.7" y="1065.0" font-size="8.3" fill="#8a8a8a" text-anchor="middle">Camp 10</text>
<text x="234.0" y="1051.0" font-size="8.3" fill="#8a8a8a" text-anchor="middle">Camp 9</text>
<text x="113.0" y="1091.8" font-size="8.3" fill="#8a8a8a" text-anchor="middle">Camp 19</text>
<text x="211.4" y="1094.2" font-size="8.3" fill="#8a8a8a" text-anchor="middle">Camp 11</text>
<text x="183.5" y="1120.8" font-size="8.3" fill="#8a8a8a" text-anchor="middle">Camp 12</text>
<text x="106.0" y="1129.5" font-size="8.3" fill="#8a8a8a" text-anchor="middle">Camp 13</text>
<text x="132.9" y="1205.2" font-size="8.3" fill="#8a8a8a" text-anchor="middle">Camp 14</text>
<text x="131.2" y="1247.7" font-size="8.3" fill="#8a8a8a" text-anchor="middle">Camp 15</text>
<text x="164.3" y="1278.4" font-size="8.3" fill="#8a8a8a" text-anchor="middle">Camp 16</text>
<text x="85.8" y="947.0" font-size="8.3" fill="#8a8a8a" text-anchor="middle">Camp 4</text>
<text x="85.8" y="956.8" font-size="8.3" fill="#8a8a8a" text-anchor="middle">Extension</text>
<text x="70.1" y="1019.6" font-size="8.3" fill="#8a8a8a" text-anchor="middle">Camp 20</text>
<text x="70.1" y="1029.0" font-size="8.3" fill="#8a8a8a" text-anchor="middle">Extension</text>
<text x="204.4" y="876.5" font-size="11.5" fill="#1f7bc6" font-weight="bold" text-anchor="middle" stroke="#ffffff" stroke-width="0.0">50,933</text>
<text x="166.7" y="886.3" font-size="11.5" fill="#1f7bc6" font-weight="bold" text-anchor="middle" stroke="#ffffff" stroke-width="0.0">44,815</text>
<text x="262.0" y="896.4" font-size="11.5" fill="#1f7bc6" font-weight="bold" text-anchor="middle" stroke="#ffffff" stroke-width="0.0">18,151</text>
<text x="128.7" y="911.4" font-size="11.5" fill="#1f7bc6" font-weight="bold" text-anchor="middle" stroke="#ffffff" stroke-width="0.0">41,019</text>
<text x="81.6" y="926.4" font-size="11.5" fill="#1f7bc6" font-weight="bold" text-anchor="middle" stroke="#ffffff" stroke-width="0.0">10,197</text>
<text x="166.7" y="941.8" font-size="11.5" fill="#1f7bc6" font-weight="bold" text-anchor="middle" stroke="#ffffff" stroke-width="0.0">42,214</text>
<text x="223.6" y="941.8" font-size="11.5" fill="#1f7bc6" font-weight="bold" text-anchor="middle" stroke="#ffffff" stroke-width="0.0">29,337</text>
<text x="280.4" y="932.4" font-size="11.5" fill="#1f7bc6" font-weight="bold" text-anchor="middle" stroke="#ffffff" stroke-width="0.0">32,120</text>
<text x="214.9" y="972.5" font-size="11.5" fill="#1f7bc6" font-weight="bold" text-anchor="middle" stroke="#ffffff" stroke-width="0.0">28,966</text>
<text x="167.0" y="988.9" font-size="11.5" fill="#1f7bc6" font-weight="bold" text-anchor="middle" stroke="#ffffff" stroke-width="0.0">31,886</text>
<text x="271.4" y="981.9" font-size="11.5" fill="#1f7bc6" font-weight="bold" text-anchor="middle" stroke="#ffffff" stroke-width="0.0">46,616</text>
<text x="109.5" y="988.9" font-size="11.5" fill="#1f7bc6" font-weight="bold" text-anchor="middle" stroke="#ffffff" stroke-width="0.0">24,514</text>
<text x="63.1" y="1002.8" font-size="11.5" fill="#1f7bc6" font-weight="bold" text-anchor="middle" stroke="#ffffff" stroke-width="0.0">13,630</text>
<text x="204.4" y="1018.5" font-size="11.5" fill="#1f7bc6" font-weight="bold" text-anchor="middle" stroke="#ffffff" stroke-width="0.0">37,372</text>
<text x="271.4" y="1032.5" font-size="11.5" fill="#1f7bc6" font-weight="bold" text-anchor="middle" stroke="#ffffff" stroke-width="0.0">36,838</text>
<text x="105.0" y="1038.7" font-size="11.5" fill="#1f7bc6" font-weight="bold" text-anchor="middle" stroke="#ffffff" stroke-width="0.0">10,696</text>
<text x="157.3" y="1049.2" font-size="11.5" fill="#1f7bc6" font-weight="bold" text-anchor="middle" stroke="#ffffff" stroke-width="0.0">38,770</text>
<text x="194.6" y="1054.4" font-size="11.5" fill="#1f7bc6" font-weight="bold" text-anchor="middle" stroke="#ffffff" stroke-width="0.0">36,234</text>
<text x="242.0" y="1073.6" font-size="11.5" fill="#1f7bc6" font-weight="bold" text-anchor="middle" stroke="#ffffff" stroke-width="0.0">44,239</text>
<text x="120.0" y="1084.8" font-size="11.5" fill="#1f7bc6" font-weight="bold" text-anchor="middle" stroke="#ffffff" stroke-width="0.0">31,215</text>
<text x="175.8" y="1104.3" font-size="11.5" fill="#1f7bc6" font-weight="bold" text-anchor="middle" stroke="#ffffff" stroke-width="0.0">36,927</text>
<text x="223.6" y="1109.9" font-size="11.5" fill="#1f7bc6" font-weight="bold" text-anchor="middle" stroke="#ffffff" stroke-width="0.0">37,092</text>
<text x="109.5" y="1145.1" font-size="11.5" fill="#1f7bc6" font-weight="bold" text-anchor="middle" stroke="#ffffff" stroke-width="0.0">51,844</text>
<text x="138.1" y="1190.5" font-size="11.5" fill="#1f7bc6" font-weight="bold" text-anchor="middle" stroke="#ffffff" stroke-width="0.0">38,290</text>
<text x="128.4" y="1236.5" font-size="11.5" fill="#1f7bc6" font-weight="bold" text-anchor="middle" stroke="#ffffff" stroke-width="0.0">65,267</text>
<text x="167.8" y="1262.0" font-size="11.5" fill="#1f7bc6" font-weight="bold" text-anchor="middle" stroke="#ffffff" stroke-width="0.0">26,416</text>
<text x="270.7" y="1255.7" font-size="8.5" fill="#8a8a8a" text-anchor="middle">Other</text>
<text x="270.7" y="1266.5" font-size="11.5" fill="#1f7bc6" font-weight="bold" text-anchor="middle" stroke="#ffffff" stroke-width="0.0">408</text>
<text x="45.8" y="1311.0" font-size="6.5" fill="#9a9a9a" font-style="italic">Scale 1:40,000</text>
<rect x="325.4" y="823.7" width="205.1" height="493.0" fill="#f9f9f9" />
<path d="M455,823.7 L530.5,823.7 L530.5,1316.7 L530,1316.7 Q515,1250 505,1200 Q490,1120 475,1050 Q470,960 462,900 Z" fill="#edf5fc" />
<path d="M355.0,872.1 L368.0,868.8 L377.0,872.1 L380.2,885.0 L386.7,899.7 L415.9,904.5 L422.4,901.3 L430.5,915.9 L446.8,945.1 L437.0,945.1 L428.9,951.6 L430.5,966.2 L424.0,977.6 L422.4,987.3 L412.7,992.2 L419.2,1010.0 L428.9,1026.3 L438.6,1029.5 L442.0,1059.0 L459.5,1094.0 L466.4,1118.4 L480.4,1128.8 L480.4,1163.7 L490.8,1198.5 L501.3,1233.4 L515.3,1268.3 L525.7,1303.1 L518.7,1306.6 L501.3,1278.7 L483.9,1254.3 L480.4,1223.0 L473.4,1188.1 L456.0,1167.2 L435.1,1149.7 L414.1,1149.7 L424.6,1128.8 L400.2,1107.9 L393.2,1090.5 L389.7,1073.0 L377.0,1044.2 L372.1,1034.4 L365.6,1016.6 L357.5,1000.3 L352.6,987.3 L352.6,966.2 L349.4,950.0 L351.0,937.0 L351.0,922.4 L342.9,915.9 L333.1,913.5 L341.2,896.4 L355.0,885.0 Z" fill="#ffffff" stroke="#a8a8a8" stroke-width="0.9" />
<path d="M381.0,855.8 L381.0,847.7 L387.5,844.5 L385.0,834.7 L390.0,829.9 L394.8,831.5 L396.4,839.6 L394.0,843.7 L404.5,846.1 L404.5,855.8 Z" fill="#ffffff" stroke="#a8a8a8" stroke-width="0.9" />
<path d="M351,937 L365.6,928.9 L381.8,925.6 L401.3,928.9 L422.4,935.4 L437,945.1" fill="none" stroke="#a8a8a8" stroke-width="0.8" />
<path d="M352.6,987 L365.6,984.1 L378.6,990.6 L393.2,989 L412.7,992.2" fill="none" stroke="#a8a8a8" stroke-width="0.8" />
<path d="M378.6,1008.4 L373.7,1019.8 L372,1030" fill="none" stroke="#a8a8a8" stroke-width="0.8" />
<path d="M377,1044.2 L390,1048 L400,1062 L415,1066 L428,1062 L442,1059" fill="none" stroke="#a8a8a8" stroke-width="0.8" />
<path d="M389.7,1073 L405,1075 L420,1072 L440,1080 L459.5,1094" fill="none" stroke="#a8a8a8" stroke-width="0.8" />
<path d="M400.2,1107.9 L420,1105 L445,1110 L466.4,1118.4" fill="none" stroke="#a8a8a8" stroke-width="0.8" />
<path d="M424.6,1128.8 L445,1140 L462,1152 L480.4,1163.7" fill="none" stroke="#a8a8a8" stroke-width="0.8" />
<circle cx="345.1" cy="841.2" r="15.0" fill="#0a0a0a" />
<text x="345.1" y="845.9" font-size="13" fill="#ffffff" font-weight="bold" text-anchor="middle">2</text>
<circle cx="367.1" cy="891.7" r="10.2" fill="url(#bub)" />
<circle cx="395.0" cy="943.0" r="17.1" fill="url(#bub)" />
<circle cx="395.0" cy="1045.1" r="14.0" fill="url(#bub)" />
<circle cx="433.3" cy="1120.8" r="20.9" fill="url(#bub)" />
<circle cx="461.2" cy="1196.8" r="15.1" fill="url(#bub)" />
<text x="384.5" y="913.9" font-size="8.3" fill="#8a8a8a" text-anchor="middle">Camp 25</text>
<text x="389.7" y="964.4" font-size="8.3" fill="#8a8a8a" text-anchor="middle">Camp 24</text>
<text x="421.1" y="1071.5" font-size="8.3" fill="#8a8a8a" text-anchor="middle">Nayapara RC</text>
<text x="424.6" y="1106.7" font-size="8.3" fill="#8a8a8a" text-anchor="middle">Camp 26</text>
<text x="456.0" y="1177.1" font-size="8.3" fill="#8a8a8a" text-anchor="middle">Camp 27</text>
<text x="367.1" y="895.7" font-size="11.5" fill="#1f7bc6" font-weight="bold" text-anchor="middle" stroke="#ffffff" stroke-width="0.0">12,750</text>
<text x="395.0" y="947.0" font-size="11.5" fill="#1f7bc6" font-weight="bold" text-anchor="middle" stroke="#ffffff" stroke-width="0.0">35,919</text>
<text x="395.0" y="1049.1" font-size="11.5" fill="#1f7bc6" font-weight="bold" text-anchor="middle" stroke="#ffffff" stroke-width="0.0">24,286</text>
<text x="433.3" y="1124.8" font-size="11.5" fill="#1f7bc6" font-weight="bold" text-anchor="middle" stroke="#ffffff" stroke-width="0.0">53,654</text>
<text x="461.2" y="1200.8" font-size="11.5" fill="#1f7bc6" font-weight="bold" text-anchor="middle" stroke="#ffffff" stroke-width="0.0">28,067</text>
<text x="330.0" y="1311.0" font-size="6.5" fill="#9a9a9a" font-style="italic">Scale 1:82,000</text>
<rect x="537.6" y="823.7" width="271.0" height="248.0" fill="#f9f9f9" />
<path d="M537.6,823.7 L760,823.7 L748.4,828.6 L739.4,830.9 L707.6,846.8 L657.6,871.8 L625.8,887.7 L594,919.5 L562.2,946.7 L553.2,960.3 L562.2,983 L589.5,1005.7 L603.1,1019.4 L598.6,1037.5 L607.7,1058 L600,1071.5 L537.6,1071.5 Z" fill="#edf5fc" />
<path d="M748.4,828.6 C752.2,829.7 758.2,830.9 762.0,837.7 C765.8,844.5 769.7,858.1 771.2,869.5 C772.7,880.9 774.2,895.2 771.2,905.8 C768.2,916.4 760.6,924.0 753.0,933.1 C745.4,942.2 734.0,953.9 725.7,960.3 C717.4,966.7 709.8,967.9 703.0,971.7 C696.2,975.5 692.5,977.3 684.9,983.0 C677.3,988.7 662.5,996.6 657.6,1005.7 C652.7,1014.8 657.6,1029.2 655.3,1037.5 C653.0,1045.8 651.9,1052.3 644.0,1055.7 C636.1,1059.1 615.3,1061.0 607.7,1058.0 C600.1,1055.0 599.4,1043.9 598.6,1037.5 C597.8,1031.1 604.6,1024.7 603.1,1019.4 C601.6,1014.1 596.3,1011.8 589.5,1005.7 C582.7,999.6 568.2,990.6 562.2,983.0 C556.2,975.4 553.2,966.3 553.2,960.3 C553.2,954.2 555.4,953.5 562.2,946.7 C569.0,939.9 583.4,929.3 594.0,919.5 C604.6,909.7 615.2,895.7 625.8,887.7 C636.4,879.8 644.0,878.6 657.6,871.8 C671.2,865.0 694.0,853.6 707.6,846.8 C721.2,840.0 732.6,833.9 739.4,830.9 C746.2,827.9 744.6,827.5 748.4,828.6 Z" fill="#ffffff" stroke="#8a8a8a" stroke-width="1.1" />
<circle cx="560.0" cy="841.3" r="15.0" fill="#0a0a0a" />
<text x="560.0" y="846.0" font-size="13" fill="#ffffff" font-weight="bold" text-anchor="middle">3</text>
<circle cx="651.7" cy="917.2" r="17.3" fill="url(#bub)" />
<text x="669.0" y="937.0" font-size="8.3" fill="#8a8a8a" text-anchor="middle">Bhasan Char</text>
<text x="651.7" y="921.2" font-size="11.5" fill="#1f7bc6" font-weight="bold" text-anchor="middle" stroke="#ffffff" stroke-width="0.0">37,088</text>
<text x="545.0" y="1066.5" font-size="6.5" fill="#9a9a9a" font-style="italic">Scale 1:82,000</text>
<rect x="815.8" y="823.6" width="161.0" height="247.8" fill="#edf5fc" />
<path d="M896.2,823.6 L896.3,826.9 L896.5,830.3 L896.9,833.6 L895.5,837.0 L897.2,840.3 L896.2,843.7 L896.2,847.0 L895.8,850.7 L897.8,854.1 L897.2,857.8 L897.4,861.3 L898.0,864.9 L899.9,867.5 L900.4,870.6 L900.9,873.7 L902.4,876.4 L903.4,879.3 L903.7,882.6 L905.5,885.6 L906.1,888.8 L907.0,892.0 L907.0,895.4 L907.7,898.6 L907.5,901.9 L908.8,904.9 L909.2,908.1 L910.6,911.1 L910.6,914.4 L912.5,917.3 L912.4,920.6 L912.1,923.8 L910.7,926.8 L909.9,929.9 L909.9,933.2 L909.8,936.5 L908.8,939.5 L908.2,942.7 L907.0,945.7 L907.8,948.6 L907.2,951.8 L908.8,954.6 L907.8,957.8 L908.2,960.8 L910.3,963.6 L910.0,966.7 L910.2,969.7 L910.6,972.7 L913.2,974.9 L914.3,978.0 L915.3,981.3 L918.4,983.1 L919.4,986.3 L921.4,988.9 L923.4,991.2 L923.9,994.3 L924.7,997.3 L927.3,999.4 L929.0,1001.9 L930.2,1004.7 L930.7,1007.7 L932.1,1010.4 L934.5,1012.7 L936.0,1015.6 L936.9,1018.8 L937.8,1022.0 L940.2,1024.3 L941.9,1027.1 L943.1,1030.1 L945.6,1032.4 L946.5,1035.6 L947.7,1038.4 L949.9,1040.8 L950.5,1044.0 L951.2,1047.0 L954.2,1049.0 L954.7,1052.2 L956.0,1055.0 L958.2,1057.3 L959.4,1060.2 L959.5,1063.6 L960.8,1066.3 L963.8,1068.3 L964.5,1071.4 L976.8,1071.4 L976.8,823.6 Z" fill="#ffffff" />
<path d="M944.7,823.6 L944.6,826.3 L943.1,828.6 L942.9,831.3 L941.6,833.6 L941.1,836.2 L942.2,838.6 L944.8,840.1 L946.2,842.2 L946.5,845.1 L945.8,847.8 L947.5,850.3 L947.7,852.9 L945.9,855.7 L947.4,858.2 L946.6,860.9 L947.7,863.4 L947.4,866.1 L948.9,868.6 L947.8,871.3 L948.3,873.9 L947.8,876.7 L949.1,879.3 L949.0,882.1 L949.7,884.7 L951.7,887.2 L950.3,890.1 L951.2,892.8 L951.9,895.4 L950.8,898.1 L949.9,900.8 L946.6,902.1 L946.0,905.0 L943.9,907.1 L942.9,909.8 L940.1,910.1 L937.9,911.7 L935.7,913.4 L935.0,916.2 L936.8,918.6 L936.1,921.3 L937.4,923.8 L936.6,926.6 L937.1,929.1 L939.5,931.4 L939.8,934.1 L939.3,936.8 L941.0,939.1 L940.2,942.4 L942.5,944.5 L943.0,947.3 L944.8,949.6 L945.3,952.3 L946.6,954.8 L947.7,957.4 L948.3,960.1 L949.6,962.6 L951.1,965.0 L951.9,967.9 L953.9,970.0 L954.9,972.7 L957.3,974.5 L957.0,977.4 L957.3,980.1 L958.7,982.6 L960.6,985.0 L959.4,988.1 L960.9,990.6 L958.2,991.5 L956.6,993.5 L955.4,995.9 L953.3,997.4 L951.9,999.6 L953.0,1002.4 L951.8,1005.5 L952.8,1008.3 L953.9,1011.1 L953.7,1014.0" fill="none" stroke="#6e6e6e" stroke-width="1.1" />
<path d="M946.5,845.1 L949.2,844.6 L952.0,844.5 L954.6,845.4 L957.4,845.0 L960.0,846.0 L962.8,845.0 L965.7,845.8 L968.5,847.0 L971.3,846.7 L974.2,846.6 L977.0,846.0" fill="none" stroke="#6e6e6e" stroke-width="1.1" />
<path d="M935.7,913.4 L933.0,913.6 L930.3,913.7 L927.6,914.0 L925.0,915.0 L922.1,914.6 L919.5,915.5 L916.7,915.7 L914.2,917.0" fill="none" stroke="#6e6e6e" stroke-width="1.1" />
<path d="M960.9,990.6 L963.7,989.3 L966.1,987.5 L968.0,985.0 L969.8,983.2 L971.3,981.1 L972.7,979.0 L975.3,978.1" fill="none" stroke="#6e6e6e" stroke-width="1.1" />
<path d="M912.0,920.0 L912.8,922.4 L913.7,924.9 L913.2,927.6 L914.8,929.8 L914.4,932.5 L915.3,934.9 L916.4,937.3 L916.0,940.0 L917.0,942.5 L918.9,944.7 L919.1,947.5 L920.8,949.7 L921.8,952.2 L922.0,955.0 L924.3,956.5 L925.9,958.9 L929.0,959.4 L931.0,961.2 L932.7,963.5 L935.0,965.0" fill="none" stroke="#9a9a9a" stroke-width="0.8" />
<path d="M896.2,850 L901,846 L903,842 L906,845 L901,851 L899,856 L898,862" fill="none" stroke="#777" stroke-width="0.9" />
<path d="M905,990 L920,1005 L935,1025 L948,1045 L965,1071" fill="none" stroke="#b5b5b5" stroke-width="0.6" stroke-dasharray="1.5 1.5"/>
<path d="M905,930 L908,938 L906,945 M903,960 L907,966 L904,972" fill="none" stroke="#9aa8b8" stroke-width="0.8" />
<text x="893.0" y="849.5" font-size="8" fill="#7a8796" text-anchor="middle">Chittagong</text>
<text x="893.0" y="860.5" font-size="8" fill="#7a8796" text-anchor="middle">Port</text>
<text x="910.6" y="886.5" font-size="8" fill="#c0c0c0" font-weight="bold" text-anchor="middle" textLength="62.0" lengthAdjust="spacing">BANGLADESH</text>
<text x="930.0" y="966.5" font-size="8" fill="#7a8796" text-anchor="middle">Cox's</text>
<text x="930.0" y="976.0" font-size="8" fill="#7a8796" text-anchor="middle">Bazar</text>
<text x="930.0" y="985.5" font-size="8" fill="#7a8796" text-anchor="middle">Sadar</text>
<circle cx="833.0" cy="842.5" r="9.5" fill="#0a0a0a" />
<text x="833.0" y="845.6" font-size="8.5" fill="#ffffff" font-weight="bold" text-anchor="middle">3</text>
<circle cx="942.6" cy="1014.8" r="9.3" fill="#0a0a0a" />
<text x="942.6" y="1018.0" font-size="9" fill="#ffffff" font-weight="bold" text-anchor="middle">1</text>
<circle cx="949.4" cy="1031.2" r="9.3" fill="#0a0a0a" />
<text x="949.4" y="1034.4" font-size="9" fill="#ffffff" font-weight="bold" text-anchor="middle">4</text>
<circle cx="961.1" cy="1054.2" r="9.3" fill="#0a0a0a" />
<text x="961.1" y="1057.4" font-size="9" fill="#ffffff" font-weight="bold" text-anchor="middle">2</text>
<rect x="537.6" y="1079.6" width="271.0" height="237.0" fill="#f9f9f9" />
<path d="M700,1079.6 Q690,1120 720,1150 Q750,1170 808.6,1160" fill="none" stroke="#f2f5f9" stroke-width="4" />
<path d="M570,1095 L585,1090 L600,1093 L612,1100 L610,1115 L600,1125 L585,1127 L572,1120 L568,1108 Z" fill="#ffffff" stroke="#a8a8a8" stroke-width="0.8" />
<path d="M722,1288 L738,1283 L752,1285 L760,1292 L757,1305 L745,1311 L730,1310 L721,1300 Z" fill="#ffffff" stroke="#a8a8a8" stroke-width="0.8" />
<circle cx="787.2" cy="1100.9" r="15.5" fill="#0a0a0a" />
<text x="787.2" y="1105.6" font-size="13" fill="#ffffff" font-weight="bold" text-anchor="middle">4</text>
<circle cx="585.0" cy="1095.0" r="12.8" fill="url(#bub)" />
<circle cx="746.2" cy="1278.0" r="14.2" fill="url(#bub)" />
<text x="580.4" y="1110.2" font-size="8.3" fill="#8a8a8a" text-anchor="middle">Camp 21</text>
<text x="739.4" y="1296.4" font-size="8.3" fill="#8a8a8a" text-anchor="middle">Camp 22</text>
<text x="585.0" y="1099.0" font-size="11.5" fill="#1f7bc6" font-weight="bold" text-anchor="middle" stroke="#ffffff" stroke-width="0.0">20,360</text>
<text x="746.2" y="1282.0" font-size="11.5" fill="#1f7bc6" font-weight="bold" text-anchor="middle" stroke="#ffffff" stroke-width="0.0">24,964</text>
<text x="545.0" y="1311.0" font-size="6.5" fill="#9a9a9a" font-style="italic">Scale 1:125,000</text>
<text x="818.4" y="1090.5" font-size="9.5" fill="#2f7fc4" font-weight="bold" textLength="34.0" lengthAdjust="spacing">Legend</text>
<circle cx="830.7" cy="1106.6" r="6.5" fill="#2f86cc" />
<text x="847.8" y="1110.2" font-size="8.6" fill="#8a8a8a" textLength="98.0" lengthAdjust="spacing"># of refugees per camp</text>
<rect x="821.8" y="1124.6" width="19.5" height="9.8" fill="#ffffff" stroke="#333" stroke-width="1.5"/>
<text x="847.8" y="1133.0" font-size="8.6" fill="#8a8a8a" textLength="68.5" lengthAdjust="spacing">Camp boundary</text>
<path d="M826,1148 L838,1148 L838,1158 L826,1158 Z" fill="#cfe3f6" />
<text x="847.8" y="1156.2" font-size="8.6" fill="#8a8a8a" textLength="47.0" lengthAdjust="spacing">Water body</text>
<text x="816.2" y="1191.2" font-size="9" fill="#2f7fc4" font-weight="bold" textLength="42.5" lengthAdjust="spacing">Contacts:</text>
<text x="816.2" y="1209.3" font-size="8.6" fill="#666" textLength="148.0" lengthAdjust="spacing"><tspan font-weight="bold" fill="#666">Romain Desclous</tspan><tspan fill="#8a8a8a">, Senior External</tspan></text>
<text x="816.2" y="1219.8" font-size="8.6" fill="#8a8a8a" textLength="102.5" lengthAdjust="spacing">Relations Officer, Dhaka,</text>
<text x="816.2" y="1230.4" font-size="8.6" fill="#2f7fc4" textLength="85.5" lengthAdjust="spacing">desclous@unhcr.org</text>
<text x="816.2" y="1245.3" font-size="8.6" fill="#666" font-weight="bold" textLength="68.0" lengthAdjust="spacing">Amy Jo Davies,</text>
<text x="816.2" y="1256.2" font-size="8.6" fill="#8a8a8a" textLength="164.0" lengthAdjust="spacing">External Relations Officer, Cox's Bazar,</text>
<text x="816.2" y="1267.3" font-size="8.6" fill="#2f7fc4" textLength="82.0" lengthAdjust="spacing">daviesa@unhcr.org</text>
<text x="816.2" y="1285.7" font-size="7.6" fill="#999" font-style="italic" textLength="159.0" lengthAdjust="spacing">The boundaries and names shown and the</text>
<text x="816.2" y="1294.5" font-size="7.6" fill="#999" font-style="italic" textLength="159.0" lengthAdjust="spacing">designations used on this map do not imply</text>
<text x="816.2" y="1304.2" font-size="7.6" fill="#999" font-style="italic" textLength="155.0" lengthAdjust="spacing">official endorsement or acceptance by the</text>
<text x="816.2" y="1313.0" font-size="7.6" fill="#999" font-style="italic" textLength="54.0" lengthAdjust="spacing">United Nations</text>
<line x1="27.3" y1="1325.7" x2="988.6" y2="1325.7" stroke="#1672c4" stroke-width="2.6" />
<text x="34.0" y="1339.8" font-size="9" fill="#777" textLength="101.0" lengthAdjust="spacing"><tspan font-weight="bold" fill="#666">Print date: </tspan><tspan fill="#888"> 11 Jul 2025</tspan></text>
<text x="34.0" y="1354.5" font-size="9" fill="#777" textLength="217.0" lengthAdjust="spacing"><tspan font-weight="bold" fill="#666">Sources</tspan><tspan fill="#888">: GoB - UNHCR Joint Registration Exercise</tspan></text>
<text x="34.0" y="1368.5" font-size="9" fill="#777" textLength="255.0" lengthAdjust="spacing"><tspan font-weight="bold" fill="#666">Developed by</tspan><tspan fill="#888">: Data, Identity Management and Analysis Unit</tspan></text>
<text x="34.0" y="1379.4" font-size="9" fill="#888" textLength="82.0" lengthAdjust="spacing">(DIMA Bangladesh)</text>
<text x="908.6" y="1341.4" font-size="8.4" fill="#777" text-anchor="end" textLength="454.7" lengthAdjust="spacing"><tspan font-weight="bold" fill="#555">UNHCR in Bangladesh is grateful for the support of </tspan><tspan fill="#777">Australia, Belgium, Canada, the People's Republic of China,</tspan></text>
<text x="908.6" y="1351.2" font-size="8.4" fill="#777" text-anchor="end" textLength="467.6" lengthAdjust="spacing">Denmark, the European Union, Finland, France, Germany, Ireland, Italy, Jersey, Kuwait, Luxembourg, the Netherlands,</text>
<text x="908.6" y="1361.7" font-size="8.4" fill="#777" text-anchor="end" textLength="418.1" lengthAdjust="spacing">New Zealand, Norway, Republic of Korea, Spain, Sweden, Switzerland, the United Kingdom, and the USA.</text>
<text x="908.6" y="1381.7" font-size="8.4" fill="#777" text-anchor="end" textLength="469.3" lengthAdjust="spacing"><tspan font-weight="bold" fill="#555">With additional support received from UN funds including </tspan><tspan fill="#777">Education Cannot Wait (ECW), UN AIDS and the Central</tspan></text>
<text x="908.6" y="1392.7" font-size="8.4" fill="#777" text-anchor="end" textLength="457.8" lengthAdjust="spacing">Emergency Response Fund (CERF), and private donors worldwide including Fast Retailing (UNIQLO), Muslim World</text>
<text x="908.6" y="1401.7" font-size="8.4" fill="#777" text-anchor="end" textLength="407.3" lengthAdjust="spacing">League, adidas Foundation, Mohammed bin Rashid Al Maktoum Global Initiatives (MBRGI), and SONY.</text>
<path d="M930.51,1331.00h2.20v2.11h-2.20zM943.42,1331.00h2.20v2.11h-2.20zM952.03,1331.00h2.20v2.11h-2.20zM954.18,1331.00h2.20v2.11h-2.20zM956.33,1331.00h2.20v2.11h-2.20zM962.78,1331.00h2.20v2.11h-2.20zM932.66,1333.06h2.20v2.11h-2.20zM934.81,1333.06h2.20v2.11h-2.20zM939.12,1333.06h2.20v2.11h-2.20zM941.27,1333.06h2.20v2.11h-2.20zM943.42,1333.06h2.20v2.11h-2.20zM945.57,1333.06h2.20v2.11h-2.20zM949.87,1333.06h2.20v2.11h-2.20zM962.78,1333.06h2.20v2.11h-2.20zM964.93,1333.06h2.20v2.11h-2.20zM934.81,1335.11h2.20v2.11h-2.20zM936.97,1335.11h2.20v2.11h-2.20zM939.12,1335.11h2.20v2.11h-2.20zM941.27,1335.11h2.20v2.11h-2.20zM945.57,1335.11h2.20v2.11h-2.20zM949.87,1335.11h2.20v2.11h-2.20zM956.33,1335.11h2.20v2.11h-2.20zM958.48,1335.11h2.20v2.11h-2.20zM967.09,1335.11h2.20v2.11h-2.20zM969.24,1335.11h2.20v2.11h-2.20zM934.81,1337.17h2.20v2.11h-2.20zM936.97,1337.17h2.20v2.11h-2.20zM939.12,1337.17h2.20v2.11h-2.20zM945.57,1337.17h2.20v2.11h-2.20zM947.72,1337.17h2.20v2.11h-2.20zM949.87,1337.17h2.20v2.11h-2.20zM952.03,1337.17h2.20v2.11h-2.20zM956.33,1337.17h2.20v2.11h-2.20zM960.63,1337.17h2.20v2.11h-2.20zM962.78,1337.17h2.20v2.11h-2.20zM967.09,1337.17h2.20v2.11h-2.20zM930.51,1339.23h2.20v2.11h-2.20zM932.66,1339.23h2.20v2.11h-2.20zM934.81,1339.23h2.20v2.11h-2.20zM936.97,1339.23h2.20v2.11h-2.20zM943.42,1339.23h2.20v2.11h-2.20zM947.72,1339.23h2.20v2.11h-2.20zM949.87,1339.23h2.20v2.11h-2.20zM956.33,1339.23h2.20v2.11h-2.20zM960.63,1339.23h2.20v2.11h-2.20zM962.78,1339.23h2.20v2.11h-2.20zM967.09,1339.23h2.20v2.11h-2.20zM969.24,1339.23h2.20v2.11h-2.20zM930.51,1341.29h2.20v2.11h-2.20zM932.66,1341.29h2.20v2.11h-2.20zM936.97,1341.29h2.20v2.11h-2.20zM941.27,1341.29h2.20v2.11h-2.20zM943.42,1341.29h2.20v2.11h-2.20zM954.18,1341.29h2.20v2.11h-2.20zM956.33,1341.29h2.20v2.11h-2.20zM962.78,1341.29h2.20v2.11h-2.20zM964.93,1341.29h2.20v2.11h-2.20zM930.51,1343.34h2.20v2.11h-2.20zM939.12,1343.34h2.20v2.11h-2.20zM941.27,1343.34h2.20v2.11h-2.20zM943.42,1343.34h2.20v2.11h-2.20zM947.72,1343.34h2.20v2.11h-2.20zM952.03,1343.34h2.20v2.11h-2.20zM958.48,1343.34h2.20v2.11h-2.20zM960.63,1343.34h2.20v2.11h-2.20zM964.93,1343.34h2.20v2.11h-2.20zM967.09,1343.34h2.20v2.11h-2.20zM934.81,1345.40h2.20v2.11h-2.20zM939.12,1345.40h2.20v2.11h-2.20zM941.27,1345.40h2.20v2.11h-2.20zM943.42,1345.40h2.20v2.11h-2.20zM945.57,1345.40h2.20v2.11h-2.20zM947.72,1345.40h2.20v2.11h-2.20zM949.87,1345.40h2.20v2.11h-2.20zM952.03,1345.40h2.20v2.11h-2.20zM956.33,1345.40h2.20v2.11h-2.20zM958.48,1345.40h2.20v2.11h-2.20zM913.30,1347.46h2.20v2.11h-2.20zM915.45,1347.46h2.20v2.11h-2.20zM917.60,1347.46h2.20v2.11h-2.20zM926.21,1347.46h2.20v2.11h-2.20zM934.81,1347.46h2.20v2.11h-2.20zM939.12,1347.46h2.20v2.11h-2.20zM956.33,1347.46h2.20v2.11h-2.20zM964.93,1347.46h2.20v2.11h-2.20zM975.69,1347.46h2.20v2.11h-2.20zM982.15,1347.46h2.20v2.11h-2.20zM917.60,1349.51h2.20v2.11h-2.20zM924.06,1349.51h2.20v2.11h-2.20zM928.36,1349.51h2.20v2.11h-2.20zM932.66,1349.51h2.20v2.11h-2.20zM939.12,1349.51h2.20v2.11h-2.20zM949.87,1349.51h2.20v2.11h-2.20zM952.03,1349.51h2.20v2.11h-2.20zM954.18,1349.51h2.20v2.11h-2.20zM958.48,1349.51h2.20v2.11h-2.20zM960.63,1349.51h2.20v2.11h-2.20zM967.09,1349.51h2.20v2.11h-2.20zM971.39,1349.51h2.20v2.11h-2.20zM975.69,1349.51h2.20v2.11h-2.20zM977.84,1349.51h2.20v2.11h-2.20zM986.45,1349.51h2.20v2.11h-2.20zM915.45,1351.57h2.20v2.11h-2.20zM917.60,1351.57h2.20v2.11h-2.20zM930.51,1351.57h2.20v2.11h-2.20zM932.66,1351.57h2.20v2.11h-2.20zM934.81,1351.57h2.20v2.11h-2.20zM936.97,1351.57h2.20v2.11h-2.20zM939.12,1351.57h2.20v2.11h-2.20zM941.27,1351.57h2.20v2.11h-2.20zM947.72,1351.57h2.20v2.11h-2.20zM954.18,1351.57h2.20v2.11h-2.20zM956.33,1351.57h2.20v2.11h-2.20zM958.48,1351.57h2.20v2.11h-2.20zM962.78,1351.57h2.20v2.11h-2.20zM969.24,1351.57h2.20v2.11h-2.20zM973.54,1351.57h2.20v2.11h-2.20zM975.69,1351.57h2.20v2.11h-2.20zM977.84,1351.57h2.20v2.11h-2.20zM979.99,1351.57h2.20v2.11h-2.20zM984.30,1351.57h2.20v2.11h-2.20zM986.45,1351.57h2.20v2.11h-2.20zM913.30,1353.63h2.20v2.11h-2.20zM917.60,1353.63h2.20v2.11h-2.20zM930.51,1353.63h2.20v2.11h-2.20zM934.81,1353.63h2.20v2.11h-2.20zM936.97,1353.63h2.20v2.11h-2.20zM943.42,1353.63h2.20v2.11h-2.20zM945.57,1353.63h2.20v2.11h-2.20zM947.72,1353.63h2.20v2.11h-2.20zM958.48,1353.63h2.20v2.11h-2.20zM964.93,1353.63h2.20v2.11h-2.20zM971.39,1353.63h2.20v2.11h-2.20zM973.54,1353.63h2.20v2.11h-2.20zM979.99,1353.63h2.20v2.11h-2.20zM919.75,1355.69h2.20v2.11h-2.20zM930.51,1355.69h2.20v2.11h-2.20zM943.42,1355.69h2.20v2.11h-2.20zM949.87,1355.69h2.20v2.11h-2.20zM952.03,1355.69h2.20v2.11h-2.20zM954.18,1355.69h2.20v2.11h-2.20zM962.78,1355.69h2.20v2.11h-2.20zM967.09,1355.69h2.20v2.11h-2.20zM971.39,1355.69h2.20v2.11h-2.20zM973.54,1355.69h2.20v2.11h-2.20zM977.84,1355.69h2.20v2.11h-2.20zM979.99,1355.69h2.20v2.11h-2.20zM921.91,1357.74h2.20v2.11h-2.20zM924.06,1357.74h2.20v2.11h-2.20zM928.36,1357.74h2.20v2.11h-2.20zM960.63,1357.74h2.20v2.11h-2.20zM962.78,1357.74h2.20v2.11h-2.20zM969.24,1357.74h2.20v2.11h-2.20zM979.99,1357.74h2.20v2.11h-2.20zM913.30,1359.80h2.20v2.11h-2.20zM919.75,1359.80h2.20v2.11h-2.20zM930.51,1359.80h2.20v2.11h-2.20zM934.81,1359.80h2.20v2.11h-2.20zM960.63,1359.80h2.20v2.11h-2.20zM964.93,1359.80h2.20v2.11h-2.20zM967.09,1359.80h2.20v2.11h-2.20zM975.69,1359.80h2.20v2.11h-2.20zM977.84,1359.80h2.20v2.11h-2.20zM984.30,1359.80h2.20v2.11h-2.20zM913.30,1361.86h2.20v2.11h-2.20zM915.45,1361.86h2.20v2.11h-2.20zM917.60,1361.86h2.20v2.11h-2.20zM921.91,1361.86h2.20v2.11h-2.20zM924.06,1361.86h2.20v2.11h-2.20zM928.36,1361.86h2.20v2.11h-2.20zM932.66,1361.86h2.20v2.11h-2.20zM936.97,1361.86h2.20v2.11h-2.20zM939.12,1361.86h2.20v2.11h-2.20zM962.78,1361.86h2.20v2.11h-2.20zM964.93,1361.86h2.20v2.11h-2.20zM967.09,1361.86h2.20v2.11h-2.20zM971.39,1361.86h2.20v2.11h-2.20zM973.54,1361.86h2.20v2.11h-2.20zM913.30,1363.91h2.20v2.11h-2.20zM921.91,1363.91h2.20v2.11h-2.20zM924.06,1363.91h2.20v2.11h-2.20zM928.36,1363.91h2.20v2.11h-2.20zM934.81,1363.91h2.20v2.11h-2.20zM936.97,1363.91h2.20v2.11h-2.20zM960.63,1363.91h2.20v2.11h-2.20zM962.78,1363.91h2.20v2.11h-2.20zM967.09,1363.91h2.20v2.11h-2.20zM971.39,1363.91h2.20v2.11h-2.20zM973.54,1363.91h2.20v2.11h-2.20zM977.84,1363.91h2.20v2.11h-2.20zM979.99,1363.91h2.20v2.11h-2.20zM913.30,1365.97h2.20v2.11h-2.20zM924.06,1365.97h2.20v2.11h-2.20zM926.21,1365.97h2.20v2.11h-2.20zM928.36,1365.97h2.20v2.11h-2.20zM930.51,1365.97h2.20v2.11h-2.20zM939.12,1365.97h2.20v2.11h-2.20zM960.63,1365.97h2.20v2.11h-2.20zM962.78,1365.97h2.20v2.11h-2.20zM971.39,1365.97h2.20v2.11h-2.20zM973.54,1365.97h2.20v2.11h-2.20zM982.15,1365.97h2.20v2.11h-2.20zM913.30,1368.03h2.20v2.11h-2.20zM917.60,1368.03h2.20v2.11h-2.20zM924.06,1368.03h2.20v2.11h-2.20zM926.21,1368.03h2.20v2.11h-2.20zM930.51,1368.03h2.20v2.11h-2.20zM932.66,1368.03h2.20v2.11h-2.20zM934.81,1368.03h2.20v2.11h-2.20zM939.12,1368.03h2.20v2.11h-2.20zM971.39,1368.03h2.20v2.11h-2.20zM982.15,1368.03h2.20v2.11h-2.20zM917.60,1370.09h2.20v2.11h-2.20zM930.51,1370.09h2.20v2.11h-2.20zM934.81,1370.09h2.20v2.11h-2.20zM936.97,1370.09h2.20v2.11h-2.20zM960.63,1370.09h2.20v2.11h-2.20zM962.78,1370.09h2.20v2.11h-2.20zM969.24,1370.09h2.20v2.11h-2.20zM975.69,1370.09h2.20v2.11h-2.20zM984.30,1370.09h2.20v2.11h-2.20zM921.91,1372.14h2.20v2.11h-2.20zM928.36,1372.14h2.20v2.11h-2.20zM930.51,1372.14h2.20v2.11h-2.20zM932.66,1372.14h2.20v2.11h-2.20zM934.81,1372.14h2.20v2.11h-2.20zM936.97,1372.14h2.20v2.11h-2.20zM939.12,1372.14h2.20v2.11h-2.20zM960.63,1372.14h2.20v2.11h-2.20zM979.99,1372.14h2.20v2.11h-2.20zM986.45,1372.14h2.20v2.11h-2.20zM915.45,1374.20h2.20v2.11h-2.20zM919.75,1374.20h2.20v2.11h-2.20zM926.21,1374.20h2.20v2.11h-2.20zM930.51,1374.20h2.20v2.11h-2.20zM936.97,1374.20h2.20v2.11h-2.20zM939.12,1374.20h2.20v2.11h-2.20zM964.93,1374.20h2.20v2.11h-2.20zM969.24,1374.20h2.20v2.11h-2.20zM971.39,1374.20h2.20v2.11h-2.20zM973.54,1374.20h2.20v2.11h-2.20zM975.69,1374.20h2.20v2.11h-2.20zM977.84,1374.20h2.20v2.11h-2.20zM982.15,1374.20h2.20v2.11h-2.20zM913.30,1376.26h2.20v2.11h-2.20zM919.75,1376.26h2.20v2.11h-2.20zM924.06,1376.26h2.20v2.11h-2.20zM930.51,1376.26h2.20v2.11h-2.20zM947.72,1376.26h2.20v2.11h-2.20zM952.03,1376.26h2.20v2.11h-2.20zM954.18,1376.26h2.20v2.11h-2.20zM956.33,1376.26h2.20v2.11h-2.20zM960.63,1376.26h2.20v2.11h-2.20zM962.78,1376.26h2.20v2.11h-2.20zM967.09,1376.26h2.20v2.11h-2.20zM969.24,1376.26h2.20v2.11h-2.20zM973.54,1376.26h2.20v2.11h-2.20zM986.45,1376.26h2.20v2.11h-2.20zM913.30,1378.31h2.20v2.11h-2.20zM921.91,1378.31h2.20v2.11h-2.20zM924.06,1378.31h2.20v2.11h-2.20zM936.97,1378.31h2.20v2.11h-2.20zM939.12,1378.31h2.20v2.11h-2.20zM947.72,1378.31h2.20v2.11h-2.20zM949.87,1378.31h2.20v2.11h-2.20zM952.03,1378.31h2.20v2.11h-2.20zM954.18,1378.31h2.20v2.11h-2.20zM958.48,1378.31h2.20v2.11h-2.20zM962.78,1378.31h2.20v2.11h-2.20zM964.93,1378.31h2.20v2.11h-2.20zM973.54,1378.31h2.20v2.11h-2.20zM977.84,1378.31h2.20v2.11h-2.20zM979.99,1378.31h2.20v2.11h-2.20zM986.45,1378.31h2.20v2.11h-2.20zM913.30,1380.37h2.20v2.11h-2.20zM921.91,1380.37h2.20v2.11h-2.20zM924.06,1380.37h2.20v2.11h-2.20zM926.21,1380.37h2.20v2.11h-2.20zM930.51,1380.37h2.20v2.11h-2.20zM936.97,1380.37h2.20v2.11h-2.20zM945.57,1380.37h2.20v2.11h-2.20zM947.72,1380.37h2.20v2.11h-2.20zM949.87,1380.37h2.20v2.11h-2.20zM954.18,1380.37h2.20v2.11h-2.20zM956.33,1380.37h2.20v2.11h-2.20zM964.93,1380.37h2.20v2.11h-2.20zM969.24,1380.37h2.20v2.11h-2.20zM971.39,1380.37h2.20v2.11h-2.20zM975.69,1380.37h2.20v2.11h-2.20zM977.84,1380.37h2.20v2.11h-2.20zM984.30,1380.37h2.20v2.11h-2.20zM986.45,1380.37h2.20v2.11h-2.20zM913.30,1382.43h2.20v2.11h-2.20zM917.60,1382.43h2.20v2.11h-2.20zM919.75,1382.43h2.20v2.11h-2.20zM932.66,1382.43h2.20v2.11h-2.20zM936.97,1382.43h2.20v2.11h-2.20zM939.12,1382.43h2.20v2.11h-2.20zM941.27,1382.43h2.20v2.11h-2.20zM947.72,1382.43h2.20v2.11h-2.20zM949.87,1382.43h2.20v2.11h-2.20zM952.03,1382.43h2.20v2.11h-2.20zM954.18,1382.43h2.20v2.11h-2.20zM956.33,1382.43h2.20v2.11h-2.20zM958.48,1382.43h2.20v2.11h-2.20zM960.63,1382.43h2.20v2.11h-2.20zM973.54,1382.43h2.20v2.11h-2.20zM979.99,1382.43h2.20v2.11h-2.20zM982.15,1382.43h2.20v2.11h-2.20zM921.91,1384.49h2.20v2.11h-2.20zM928.36,1384.49h2.20v2.11h-2.20zM930.51,1384.49h2.20v2.11h-2.20zM936.97,1384.49h2.20v2.11h-2.20zM941.27,1384.49h2.20v2.11h-2.20zM947.72,1384.49h2.20v2.11h-2.20zM949.87,1384.49h2.20v2.11h-2.20zM958.48,1384.49h2.20v2.11h-2.20zM960.63,1384.49h2.20v2.11h-2.20zM977.84,1384.49h2.20v2.11h-2.20zM945.57,1386.54h2.20v2.11h-2.20zM947.72,1386.54h2.20v2.11h-2.20zM949.87,1386.54h2.20v2.11h-2.20zM956.33,1386.54h2.20v2.11h-2.20zM958.48,1386.54h2.20v2.11h-2.20zM960.63,1386.54h2.20v2.11h-2.20zM962.78,1386.54h2.20v2.11h-2.20zM964.93,1386.54h2.20v2.11h-2.20zM969.24,1386.54h2.20v2.11h-2.20zM971.39,1386.54h2.20v2.11h-2.20zM973.54,1386.54h2.20v2.11h-2.20zM979.99,1386.54h2.20v2.11h-2.20zM982.15,1386.54h2.20v2.11h-2.20zM984.30,1386.54h2.20v2.11h-2.20zM932.66,1388.60h2.20v2.11h-2.20zM934.81,1388.60h2.20v2.11h-2.20zM936.97,1388.60h2.20v2.11h-2.20zM939.12,1388.60h2.20v2.11h-2.20zM941.27,1388.60h2.20v2.11h-2.20zM947.72,1388.60h2.20v2.11h-2.20zM949.87,1388.60h2.20v2.11h-2.20zM952.03,1388.60h2.20v2.11h-2.20zM954.18,1388.60h2.20v2.11h-2.20zM958.48,1388.60h2.20v2.11h-2.20zM967.09,1388.60h2.20v2.11h-2.20zM973.54,1388.60h2.20v2.11h-2.20zM982.15,1388.60h2.20v2.11h-2.20zM984.30,1388.60h2.20v2.11h-2.20zM932.66,1390.66h2.20v2.11h-2.20zM939.12,1390.66h2.20v2.11h-2.20zM945.57,1390.66h2.20v2.11h-2.20zM947.72,1390.66h2.20v2.11h-2.20zM952.03,1390.66h2.20v2.11h-2.20zM960.63,1390.66h2.20v2.11h-2.20zM962.78,1390.66h2.20v2.11h-2.20zM964.93,1390.66h2.20v2.11h-2.20zM967.09,1390.66h2.20v2.11h-2.20zM977.84,1390.66h2.20v2.11h-2.20zM982.15,1390.66h2.20v2.11h-2.20zM986.45,1390.66h2.20v2.11h-2.20zM936.97,1392.71h2.20v2.11h-2.20zM939.12,1392.71h2.20v2.11h-2.20zM943.42,1392.71h2.20v2.11h-2.20zM956.33,1392.71h2.20v2.11h-2.20zM960.63,1392.71h2.20v2.11h-2.20zM964.93,1392.71h2.20v2.11h-2.20zM969.24,1392.71h2.20v2.11h-2.20zM975.69,1392.71h2.20v2.11h-2.20zM979.99,1392.71h2.20v2.11h-2.20zM982.15,1392.71h2.20v2.11h-2.20zM984.30,1392.71h2.20v2.11h-2.20zM986.45,1392.71h2.20v2.11h-2.20zM934.81,1394.77h2.20v2.11h-2.20zM939.12,1394.77h2.20v2.11h-2.20zM941.27,1394.77h2.20v2.11h-2.20zM952.03,1394.77h2.20v2.11h-2.20zM954.18,1394.77h2.20v2.11h-2.20zM958.48,1394.77h2.20v2.11h-2.20zM962.78,1394.77h2.20v2.11h-2.20zM964.93,1394.77h2.20v2.11h-2.20zM971.39,1394.77h2.20v2.11h-2.20zM975.69,1394.77h2.20v2.11h-2.20zM977.84,1394.77h2.20v2.11h-2.20zM982.15,1394.77h2.20v2.11h-2.20zM984.30,1394.77h2.20v2.11h-2.20zM986.45,1394.77h2.20v2.11h-2.20zM932.66,1396.83h2.20v2.11h-2.20zM934.81,1396.83h2.20v2.11h-2.20zM939.12,1396.83h2.20v2.11h-2.20zM947.72,1396.83h2.20v2.11h-2.20zM952.03,1396.83h2.20v2.11h-2.20zM954.18,1396.83h2.20v2.11h-2.20zM956.33,1396.83h2.20v2.11h-2.20zM962.78,1396.83h2.20v2.11h-2.20zM964.93,1396.83h2.20v2.11h-2.20zM971.39,1396.83h2.20v2.11h-2.20zM973.54,1396.83h2.20v2.11h-2.20zM975.69,1396.83h2.20v2.11h-2.20zM977.84,1396.83h2.20v2.11h-2.20zM979.99,1396.83h2.20v2.11h-2.20zM982.15,1396.83h2.20v2.11h-2.20zM986.45,1396.83h2.20v2.11h-2.20zM939.12,1398.89h2.20v2.11h-2.20zM941.27,1398.89h2.20v2.11h-2.20zM943.42,1398.89h2.20v2.11h-2.20zM945.57,1398.89h2.20v2.11h-2.20zM947.72,1398.89h2.20v2.11h-2.20zM960.63,1398.89h2.20v2.11h-2.20zM962.78,1398.89h2.20v2.11h-2.20zM964.93,1398.89h2.20v2.11h-2.20zM969.24,1398.89h2.20v2.11h-2.20zM971.39,1398.89h2.20v2.11h-2.20zM982.15,1398.89h2.20v2.11h-2.20zM932.66,1400.94h2.20v2.11h-2.20zM936.97,1400.94h2.20v2.11h-2.20zM949.87,1400.94h2.20v2.11h-2.20zM956.33,1400.94h2.20v2.11h-2.20zM958.48,1400.94h2.20v2.11h-2.20zM960.63,1400.94h2.20v2.11h-2.20zM967.09,1400.94h2.20v2.11h-2.20zM971.39,1400.94h2.20v2.11h-2.20zM975.69,1400.94h2.20v2.11h-2.20zM979.99,1400.94h2.20v2.11h-2.20z" fill="#1e1e1e"/>
<rect x="914.2" y="1331.9" width="13.3" height="12.6" rx="3.2" fill="#ffffff" stroke="#1d64a8" stroke-width="2.5"/>
<rect x="917.6" y="1335.1" width="6.5" height="6.2" rx="1" fill="#1d64a8"/>
<rect x="974.4" y="1331.9" width="13.3" height="12.6" rx="3.2" fill="#ffffff" stroke="#1d64a8" stroke-width="2.5"/>
<rect x="977.8" y="1335.1" width="6.5" height="6.2" rx="1" fill="#1d64a8"/>
<rect x="914.2" y="1389.5" width="13.3" height="12.6" rx="3.2" fill="#ffffff" stroke="#1d64a8" stroke-width="2.5"/>
<rect x="917.6" y="1392.7" width="6.5" height="6.2" rx="1" fill="#1d64a8"/>
<rect x="941.9" y="1358.0" width="18.0" height="19.0" fill="#ffffff" />
<circle cx="950.9" cy="1365.5" r="5.6" fill="none" stroke="#1672c4" stroke-width="1.6"/>
<path d="M948.3499999999999,1368.5 L950.9499999999999,1362.2 L953.55,1368.5" fill="none" stroke="#1672c4" stroke-width="1.3" />
<rect x="943.9" y="1372.5" width="14.0" height="3.0" fill="#1672c4" />
</svg>
</body></html>
